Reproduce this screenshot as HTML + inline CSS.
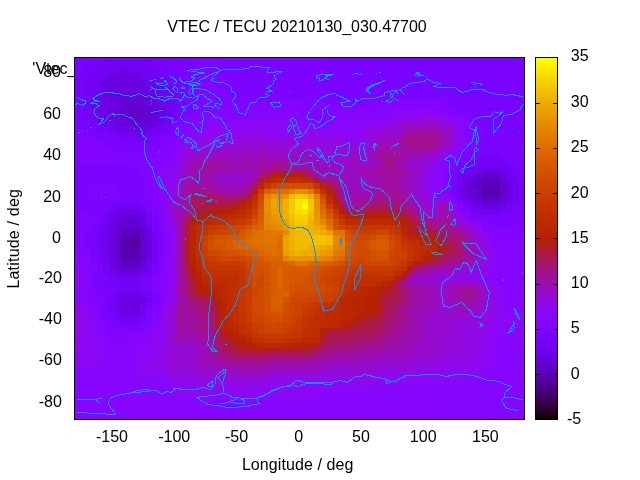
<!DOCTYPE html>
<html lang="en"><head><meta charset="utf-8"><title>VTEC / TECU 20210130_030.47700</title>
<style>html,body{margin:0;padding:0;background:#fff}body{width:640px;height:480px;overflow:hidden}svg{display:block}text{font-family:"Liberation Sans",sans-serif;font-size:16px;fill:#000}.c polyline{fill:none;stroke:#0a93ff;stroke-width:1}</style></head><body>
<svg width="640" height="480" viewBox="0 0 640 480">
<rect width="640" height="480" fill="#fff"/>
<text x="297" y="32.3" text-anchor="middle">VTEC / TECU 20210130_030.47700</text>
<text x="76.3" y="74.4" text-anchor="end">'Vtec_</text>
<text x="61.0" y="77.4" text-anchor="end">80</text>
<text x="61.0" y="119.3" text-anchor="end">60</text>
<text x="61.0" y="160.3" text-anchor="end">40</text>
<text x="61.0" y="201.5" text-anchor="end">20</text>
<text x="61.0" y="242.6" text-anchor="end">0</text>
<text x="61.8" y="283.3" text-anchor="end">-20</text>
<text x="61.8" y="324.4" text-anchor="end">-40</text>
<text x="61.8" y="365.3" text-anchor="end">-60</text>
<text x="61.8" y="407.1" text-anchor="end">-80</text>
<text x="112.0" y="442.3" text-anchor="middle">-150</text>
<text x="174.2" y="442.3" text-anchor="middle">-100</text>
<text x="236.5" y="442.3" text-anchor="middle">-50</text>
<text x="298.7" y="442.3" text-anchor="middle">0</text>
<text x="360.9" y="442.3" text-anchor="middle">50</text>
<text x="423.2" y="442.3" text-anchor="middle">100</text>
<text x="485.4" y="442.3" text-anchor="middle">150</text>
<text x="570.8" y="61.3">35</text>
<text x="570.8" y="107.2">30</text>
<text x="570.8" y="152.4">25</text>
<text x="570.8" y="197.7">20</text>
<text x="570.8" y="242.9">15</text>
<text x="570.8" y="288.1">10</text>
<text x="570.8" y="333.4">5</text>
<text x="570.8" y="378.6">0</text>
<text x="567.0" y="423.9">-5</text>
<text x="241.9" y="470" style="letter-spacing:.08px">Longitude / deg</text>
<text transform="translate(18.5,288.6) rotate(-90)" style="letter-spacing:.2px">Latitude / deg</text>
<g shape-rendering="crispEdges">
<rect x="74" y="57" width="451" height="363" fill="#000"/>
<path fill="#7c03fe" d="M74 57h23v3h-23zM165 57h25v3h-25zM326 57h199v3h-199zM184 60h12v5h-12zM221 60h105v5h-105zM190 65h6v5h-6zM221 65h105v5h-105zM190 70h6v5h-6zM221 70h105v5h-105zM190 75h6v5h-6zM221 75h105v5h-105zM190 80h6v6h-6zM221 80h105v6h-105zM190 86h6v5h-6zM221 86h112v5h-112zM190 91h6v5h-6zM221 91h112v5h-112zM190 96h6v5h-6zM221 96h230v5h-230zM190 101h6v5h-6zM326 101h44v5h-44zM444 101h7v5h-7zM190 106h6v5h-6zM457 106h12v5h-12zM190 111h6v5h-6zM463 111h6v5h-6zM469 116h13v6h-13zM74 122h4v5h-4zM177 122h7v5h-7zM475 122h7v5h-7zM78 127h6v5h-6zM171 127h6v5h-6zM84 132h6v5h-6zM165 132h6v5h-6zM482 132h6v5h-6zM90 137h13v5h-13zM159 137h6v5h-6zM103 142h12v5h-12zM152 142h7v5h-7zM475 142h7v5h-7zM519 142h6v5h-6zM115 147h37v6h-37zM469 147h6v6h-6zM519 147h6v6h-6zM463 153h6v5h-6zM519 153h6v5h-6zM457 158h6v5h-6zM74 163h60v5h-60zM90 168h31v5h-31zM128 168h12v5h-12zM451 168h6v5h-6zM134 173h6v5h-6zM90 178h31v5h-31zM134 178h12v5h-12zM84 183h6v6h-6zM115 183h6v6h-6zM140 183h6v6h-6zM84 189h6v5h-6zM115 189h6v5h-6zM140 189h6v5h-6zM84 194h6v5h-6zM115 194h6v5h-6zM140 194h6v5h-6zM451 194h6v5h-6zM90 199h19v5h-19zM146 199h6v5h-6zM78 209h12v5h-12zM152 209h7v5h-7zM90 214h7v5h-7zM469 214h6v5h-6zM90 219h7v6h-7zM488 219h6v6h-6zM513 219h12v6h-12zM494 225h31v5h-31zM84 230h6v5h-6zM84 235h6v5h-6zM84 240h6v5h-6zM84 245h6v5h-6zM90 256h7v5h-7zM152 271h7v5h-7zM97 276h6v5h-6zM97 281h6v5h-6zM97 286h6v6h-6zM97 292h6v5h-6zM152 292h7v5h-7zM97 297h6v5h-6zM103 312h6v5h-6zM103 317h6v5h-6zM146 317h6v5h-6zM109 322h6v6h-6zM140 322h6v6h-6zM115 328h25v5h-25z"/>
<path fill="#7903fc" d="M97 57h68v3h-68zM74 60h16v5h-16zM165 60h19v5h-19zM326 60h199v5h-199zM74 65h10v5h-10zM171 65h19v5h-19zM326 65h199v5h-199zM74 70h10v5h-10zM171 70h19v5h-19zM326 70h199v5h-199zM74 75h4v5h-4zM177 75h13v5h-13zM326 75h199v5h-199zM74 80h4v6h-4zM177 80h13v6h-13zM326 80h199v6h-199zM74 86h4v5h-4zM184 86h6v5h-6zM333 86h192v5h-192zM74 91h4v5h-4zM184 91h6v5h-6zM333 91h192v5h-192zM74 96h4v5h-4zM184 96h6v5h-6zM451 96h74v5h-74zM74 101h4v5h-4zM184 101h6v5h-6zM451 101h74v5h-74zM74 106h4v5h-4zM184 106h6v5h-6zM469 106h56v5h-56zM74 111h4v5h-4zM184 111h6v5h-6zM469 111h56v5h-56zM74 116h10v6h-10zM177 116h7v6h-7zM482 116h43v6h-43zM78 122h12v5h-12zM171 122h6v5h-6zM482 122h43v5h-43zM84 127h13v5h-13zM482 127h43v5h-43zM90 132h19v5h-19zM159 132h6v5h-6zM488 132h37v5h-37zM103 137h18v5h-18zM152 137h7v5h-7zM482 137h43v5h-43zM115 142h37v5h-37zM482 142h37v5h-37zM475 147h44v6h-44zM469 153h13v5h-13zM500 153h19v5h-19zM463 158h6v5h-6zM507 158h18v5h-18zM457 163h6v5h-6zM513 163h12v5h-12zM74 168h16v5h-16zM121 168h7v5h-7zM519 168h6v5h-6zM74 173h60v5h-60zM451 173h6v5h-6zM519 173h6v5h-6zM74 178h16v5h-16zM121 178h13v5h-13zM451 178h6v5h-6zM74 183h10v6h-10zM121 183h19v6h-19zM451 183h6v6h-6zM74 189h10v5h-10zM121 189h19v5h-19zM451 189h6v5h-6zM74 194h10v5h-10zM121 194h19v5h-19zM74 199h16v5h-16zM109 199h12v5h-12zM140 199h6v5h-6zM457 199h6v5h-6zM74 204h35v5h-35zM146 204h6v5h-6zM463 204h6v5h-6zM519 204h6v5h-6zM90 209h13v5h-13zM469 209h6v5h-6zM513 209h12v5h-12zM97 214h6v5h-6zM152 214h7v5h-7zM475 214h19v5h-19zM500 214h25v5h-25zM97 219h6v6h-6zM152 219h7v6h-7zM494 219h19v6h-19zM90 225h7v5h-7zM152 225h7v5h-7zM90 230h7v5h-7zM152 230h7v5h-7zM90 235h7v5h-7zM90 240h7v5h-7zM90 245h7v5h-7zM90 250h7v6h-7zM97 261h6v5h-6zM152 261h7v5h-7zM97 266h6v5h-6zM152 266h7v5h-7zM97 271h6v5h-6zM103 276h6v5h-6zM146 276h6v5h-6zM103 281h6v5h-6zM146 281h6v5h-6zM103 286h12v6h-12zM146 286h6v6h-6zM103 292h6v5h-6zM103 297h6v5h-6zM152 297h7v5h-7zM103 302h6v5h-6zM103 307h6v5h-6zM146 307h6v5h-6zM109 312h6v5h-6zM146 312h6v5h-6zM109 317h6v5h-6zM140 317h6v5h-6zM115 322h25v6h-25z"/>
<path fill="#8004ff" d="M190 57h136v3h-136zM196 60h25v5h-25zM196 65h25v5h-25zM196 70h25v5h-25zM196 75h25v5h-25zM196 80h25v6h-25zM196 86h25v5h-25zM196 91h25v5h-25zM196 96h25v5h-25zM196 101h130v5h-130zM370 101h74v5h-74zM196 106h62v5h-62zM444 106h13v5h-13zM196 111h25v5h-25zM457 111h6v5h-6zM184 116h12v6h-12zM463 116h6v6h-6zM469 122h6v5h-6zM74 127h4v5h-4zM177 127h7v5h-7zM469 127h13v5h-13zM74 132h10v5h-10zM171 132h6v5h-6zM475 132h7v5h-7zM74 137h16v5h-16zM165 137h12v5h-12zM469 137h13v5h-13zM74 142h29v5h-29zM159 142h12v5h-12zM469 142h6v5h-6zM74 147h41v6h-41zM152 147h13v6h-13zM463 147h6v6h-6zM74 153h85v5h-85zM457 153h6v5h-6zM74 158h78v5h-78zM134 163h18v5h-18zM451 163h6v5h-6zM140 168h12v5h-12zM444 168h7v5h-7zM140 173h12v5h-12zM444 173h7v5h-7zM146 178h6v5h-6zM444 178h7v5h-7zM90 183h25v6h-25zM146 183h6v6h-6zM444 183h7v6h-7zM90 189h25v5h-25zM146 189h6v5h-6zM90 194h25v5h-25zM146 194h6v5h-6zM152 204h7v5h-7zM457 204h6v5h-6zM74 209h4v5h-4zM463 209h6v5h-6zM78 214h12v5h-12zM78 219h12v6h-12zM482 219h6v6h-6zM78 225h12v5h-12zM488 225h6v5h-6zM78 230h6v5h-6zM159 230h6v5h-6zM494 230h31v5h-31zM78 235h6v5h-6zM159 235h6v5h-6zM78 240h6v5h-6zM159 240h6v5h-6zM78 245h6v5h-6zM159 245h6v5h-6zM84 250h6v6h-6zM159 250h6v6h-6zM159 256h6v5h-6zM90 261h7v5h-7zM159 261h6v5h-6zM90 266h7v5h-7zM90 271h7v5h-7zM90 276h7v5h-7zM152 276h7v5h-7zM90 281h7v5h-7zM152 281h7v5h-7zM90 286h7v6h-7zM152 286h7v6h-7zM90 292h7v5h-7zM90 297h7v5h-7zM97 302h6v5h-6zM152 302h7v5h-7zM97 307h6v5h-6zM152 307h7v5h-7zM97 312h6v5h-6zM103 322h6v6h-6zM146 322h6v6h-6zM103 328h12v5h-12zM140 328h6v5h-6zM109 333h25v5h-25z"/>
<path fill="#7602f8" d="M90 60h13v5h-13zM152 60h13v5h-13zM84 65h13v5h-13zM159 65h12v5h-12zM84 70h6v5h-6zM165 70h6v5h-6zM78 75h12v5h-12zM165 75h12v5h-12zM78 80h6v6h-6zM171 80h6v6h-6zM78 86h6v5h-6zM171 86h13v5h-13zM78 91h6v5h-6zM177 91h7v5h-7zM78 96h6v5h-6zM177 96h7v5h-7zM78 101h6v5h-6zM177 101h7v5h-7zM78 106h6v5h-6zM177 106h7v5h-7zM78 111h6v5h-6zM177 111h7v5h-7zM84 116h6v6h-6zM171 116h6v6h-6zM90 122h7v5h-7zM97 127h12v5h-12zM165 127h6v5h-6zM109 132h6v5h-6zM152 132h7v5h-7zM121 137h13v5h-13zM140 137h12v5h-12zM482 153h18v5h-18zM469 158h13v5h-13zM500 158h7v5h-7zM463 163h6v5h-6zM507 163h6v5h-6zM457 168h6v5h-6zM513 168h6v5h-6zM513 173h6v5h-6zM519 178h6v5h-6zM519 183h6v6h-6zM519 189h6v5h-6zM519 194h6v5h-6zM121 199h19v5h-19zM519 199h6v5h-6zM109 204h6v5h-6zM140 204h6v5h-6zM513 204h6v5h-6zM103 209h6v5h-6zM146 209h6v5h-6zM475 209h7v5h-7zM507 209h6v5h-6zM494 214h6v5h-6zM97 225h6v5h-6zM97 230h6v5h-6zM152 235h7v5h-7zM152 240h7v5h-7zM152 245h7v5h-7zM97 250h6v6h-6zM152 250h7v6h-7zM97 256h6v5h-6zM152 256h7v5h-7zM103 271h6v5h-6zM109 276h6v5h-6zM140 276h6v5h-6zM109 281h12v5h-12zM140 281h6v5h-6zM115 286h6v6h-6zM140 286h6v6h-6zM109 292h6v5h-6zM146 292h6v5h-6zM109 297h6v5h-6zM109 302h6v5h-6zM146 302h6v5h-6zM109 307h6v5h-6zM115 317h6v5h-6z"/>
<path fill="#7202f3" d="M103 60h49v5h-49zM97 65h18v5h-18zM134 65h25v5h-25zM90 70h19v5h-19zM146 70h19v5h-19zM90 75h13v5h-13zM152 75h13v5h-13zM84 80h13v6h-13zM159 80h12v6h-12zM84 86h13v5h-13zM165 86h6v5h-6zM84 91h6v5h-6zM165 91h12v5h-12zM84 96h6v5h-6zM165 96h12v5h-12zM84 101h6v5h-6zM165 101h12v5h-12zM84 106h6v5h-6zM171 106h6v5h-6zM84 111h13v5h-13zM171 111h6v5h-6zM90 116h13v6h-13zM165 116h6v6h-6zM97 122h12v5h-12zM165 122h6v5h-6zM109 127h6v5h-6zM159 127h6v5h-6zM115 132h19v5h-19zM146 132h6v5h-6zM134 137h6v5h-6zM482 158h18v5h-18zM469 163h38v5h-38zM463 168h6v5h-6zM507 168h6v5h-6zM457 173h6v5h-6zM507 173h6v5h-6zM457 178h6v5h-6zM513 178h6v5h-6zM513 183h6v6h-6zM513 189h6v5h-6zM457 194h6v5h-6zM513 194h6v5h-6zM463 199h6v5h-6zM513 199h6v5h-6zM115 204h25v5h-25zM469 204h6v5h-6zM507 204h6v5h-6zM109 209h6v5h-6zM140 209h6v5h-6zM482 209h12v5h-12zM500 209h7v5h-7zM103 214h6v5h-6zM146 214h6v5h-6zM103 219h6v6h-6zM146 219h6v6h-6zM103 225h6v5h-6zM97 235h6v5h-6zM97 240h6v5h-6zM97 245h6v5h-6zM103 256h6v5h-6zM103 261h6v5h-6zM103 266h6v5h-6zM109 271h6v5h-6zM146 271h6v5h-6zM115 276h25v5h-25zM121 281h19v5h-19zM121 286h19v6h-19zM115 292h6v5h-6zM140 292h6v5h-6zM115 297h6v5h-6zM146 297h6v5h-6zM140 307h6v5h-6zM115 312h6v5h-6zM140 312h6v5h-6zM121 317h19v5h-19z"/>
<path fill="#6e02ec" d="M115 65h19v5h-19zM109 70h12v5h-12zM128 70h18v5h-18zM103 75h6v5h-6zM140 75h12v5h-12zM97 80h6v6h-6zM146 80h13v6h-13zM97 86h6v5h-6zM152 86h13v5h-13zM90 91h13v5h-13zM159 91h6v5h-6zM90 96h13v5h-13zM159 96h6v5h-6zM90 101h13v5h-13zM159 101h6v5h-6zM90 106h13v5h-13zM165 106h6v5h-6zM97 111h6v5h-6zM165 111h6v5h-6zM103 116h6v6h-6zM109 122h6v5h-6zM159 122h6v5h-6zM115 127h13v5h-13zM152 127h7v5h-7zM134 132h12v5h-12zM469 168h13v5h-13zM500 168h7v5h-7zM463 173h6v5h-6zM507 178h6v5h-6zM457 183h6v6h-6zM457 189h6v5h-6zM507 199h6v5h-6zM475 204h7v5h-7zM500 204h7v5h-7zM115 209h6v5h-6zM494 209h6v5h-6zM109 214h6v5h-6zM109 219h6v6h-6zM146 225h6v5h-6zM103 230h6v5h-6zM103 235h6v5h-6zM103 240h6v5h-6zM103 245h6v5h-6zM103 250h6v6h-6zM146 261h6v5h-6zM146 266h6v5h-6zM115 271h6v5h-6zM140 271h6v5h-6zM121 292h13v5h-13zM115 302h6v5h-6zM140 302h6v5h-6zM115 307h6v5h-6zM121 312h19v5h-19z"/>
<path fill="#6b01e3" d="M121 70h7v5h-7zM109 75h31v5h-31zM103 80h43v6h-43zM103 86h49v5h-49zM103 91h56v5h-56zM103 96h18v5h-18zM146 96h13v5h-13zM103 101h18v5h-18zM152 101h7v5h-7zM103 106h12v5h-12zM159 106h6v5h-6zM103 111h12v5h-12zM159 111h6v5h-6zM109 116h12v6h-12zM159 116h6v6h-6zM115 122h13v5h-13zM152 122h7v5h-7zM128 127h24v5h-24zM482 168h18v5h-18zM469 173h6v5h-6zM500 173h7v5h-7zM463 178h6v5h-6zM463 183h6v6h-6zM507 183h6v6h-6zM463 189h6v5h-6zM507 189h6v5h-6zM463 194h6v5h-6zM507 194h6v5h-6zM469 199h6v5h-6zM482 204h18v5h-18zM121 209h19v5h-19zM115 214h6v5h-6zM140 214h6v5h-6zM115 219h6v6h-6zM140 219h6v6h-6zM109 225h6v5h-6zM109 230h6v5h-6zM146 230h6v5h-6zM109 235h6v5h-6zM146 235h6v5h-6zM109 240h6v5h-6zM146 240h6v5h-6zM109 245h6v5h-6zM146 245h6v5h-6zM109 250h6v6h-6zM146 250h6v6h-6zM109 256h6v5h-6zM146 256h6v5h-6zM109 261h6v5h-6zM109 266h6v5h-6zM140 266h6v5h-6zM121 271h19v5h-19zM134 292h6v5h-6zM121 297h13v5h-13zM140 297h6v5h-6zM121 302h13v5h-13zM121 307h13v5h-13z"/>
<path fill="#6701d9" d="M121 96h25v5h-25zM121 101h13v5h-13zM140 101h12v5h-12zM115 106h13v5h-13zM152 106h7v5h-7zM115 111h6v5h-6zM152 111h7v5h-7zM121 116h7v6h-7zM152 116h7v6h-7zM128 122h6v5h-6zM140 122h12v5h-12zM475 173h7v5h-7zM469 178h6v5h-6zM500 178h7v5h-7zM469 189h6v5h-6zM469 194h6v5h-6zM475 199h7v5h-7zM500 199h7v5h-7zM121 214h19v5h-19zM115 225h6v5h-6zM140 225h6v5h-6zM115 261h6v5h-6zM140 261h6v5h-6zM115 266h6v5h-6zM134 297h6v5h-6zM134 302h6v5h-6zM134 307h6v5h-6z"/>
<path fill="#6301ce" d="M134 101h6v5h-6zM128 106h24v5h-24zM121 111h13v5h-13zM140 111h12v5h-12zM128 116h24v6h-24zM134 122h6v5h-6zM482 173h18v5h-18zM475 178h7v5h-7zM469 183h6v6h-6zM500 183h7v6h-7zM475 189h7v5h-7zM500 189h7v5h-7zM475 194h7v5h-7zM500 194h7v5h-7zM482 199h18v5h-18zM121 219h19v6h-19zM121 225h19v5h-19zM115 230h6v5h-6zM140 230h6v5h-6zM115 235h6v5h-6zM140 235h6v5h-6zM115 240h6v5h-6zM140 240h6v5h-6zM115 245h6v5h-6zM140 245h6v5h-6zM115 250h6v6h-6zM140 250h6v6h-6zM115 256h6v5h-6zM140 256h6v5h-6zM121 266h19v5h-19z"/>
<path fill="#8305fe" d="M258 106h124v5h-124zM438 106h6v5h-6zM221 111h37v5h-37zM295 111h38v5h-38zM451 111h6v5h-6zM196 116h12v6h-12zM308 116h18v6h-18zM184 122h6v5h-6zM177 132h7v5h-7zM469 132h6v5h-6zM171 142h6v5h-6zM165 147h12v6h-12zM159 153h18v5h-18zM152 158h7v5h-7zM451 158h6v5h-6zM152 163h7v5h-7zM444 163h7v5h-7zM152 168h7v5h-7zM444 189h7v5h-7zM152 199h7v5h-7zM74 214h4v5h-4zM159 214h6v5h-6zM74 219h4v6h-4zM159 219h6v6h-6zM475 219h7v6h-7zM74 225h4v5h-4zM159 225h6v5h-6zM482 225h6v5h-6zM74 230h4v5h-4zM488 230h6v5h-6zM74 235h4v5h-4zM494 235h31v5h-31zM74 240h4v5h-4zM494 240h31v5h-31zM74 245h4v5h-4zM500 245h25v5h-25zM78 250h6v6h-6zM500 250h25v6h-25zM84 256h6v5h-6zM507 256h18v5h-18zM507 261h18v5h-18zM159 266h6v5h-6zM507 266h18v5h-18zM159 271h6v5h-6zM507 271h18v5h-18zM507 276h18v5h-18zM507 281h18v5h-18zM159 292h6v5h-6zM84 297h6v5h-6zM159 297h6v5h-6zM90 302h7v5h-7zM152 312h7v5h-7zM97 317h6v5h-6zM152 317h7v5h-7zM97 322h6v6h-6zM97 328h6v5h-6zM103 333h6v5h-6zM134 333h6v5h-6zM109 338h19v5h-19zM109 343h19v5h-19zM432 389h68v6h-68zM432 395h68v5h-68zM432 400h68v5h-68zM432 405h68v5h-68z"/>
<path fill="#8605fc" d="M382 106h56v5h-56zM258 111h37v5h-37zM333 111h62v5h-62zM438 111h13v5h-13zM208 116h50v6h-50zM289 116h19v6h-19zM326 116h50v6h-50zM457 116h6v6h-6zM190 122h18v5h-18zM308 122h25v5h-25zM463 122h6v5h-6zM184 127h12v5h-12zM463 127h6v5h-6zM463 132h6v5h-6zM177 137h7v5h-7zM463 137h6v5h-6zM463 142h6v5h-6zM457 147h6v6h-6zM451 153h6v5h-6zM159 158h18v5h-18zM444 158h7v5h-7zM159 163h12v5h-12zM438 163h6v5h-6zM159 168h6v5h-6zM438 168h6v5h-6zM152 173h7v5h-7zM438 173h6v5h-6zM152 178h7v5h-7zM438 178h6v5h-6zM152 183h7v6h-7zM438 183h6v6h-6zM152 189h7v5h-7zM438 189h6v5h-6zM152 194h7v5h-7zM444 194h7v5h-7zM451 199h6v5h-6zM159 204h6v5h-6zM159 209h6v5h-6zM457 209h6v5h-6zM463 214h6v5h-6zM165 230h6v5h-6zM482 230h6v5h-6zM165 235h6v5h-6zM488 235h6v5h-6zM165 240h6v5h-6zM165 245h6v5h-6zM494 245h6v5h-6zM74 250h4v6h-4zM165 250h6v6h-6zM494 250h6v6h-6zM78 256h6v5h-6zM165 256h6v5h-6zM494 256h13v5h-13zM78 261h12v5h-12zM494 261h13v5h-13zM84 266h6v5h-6zM494 266h13v5h-13zM84 271h6v5h-6zM494 271h13v5h-13zM84 276h6v5h-6zM159 276h6v5h-6zM488 276h19v5h-19zM84 281h6v5h-6zM159 281h6v5h-6zM500 281h7v5h-7zM84 286h6v6h-6zM159 286h6v6h-6zM507 286h18v6h-18zM78 292h12v5h-12zM507 292h18v5h-18zM74 297h10v5h-10zM507 297h18v5h-18zM84 302h6v5h-6zM159 302h6v5h-6zM507 302h18v5h-18zM90 307h7v5h-7zM507 307h6v5h-6zM90 312h7v5h-7zM152 322h7v6h-7zM146 328h6v5h-6zM507 328h6v5h-6zM97 333h6v5h-6zM140 333h12v5h-12zM507 333h6v5h-6zM103 338h6v5h-6zM128 338h18v5h-18zM500 338h19v5h-19zM103 343h6v5h-6zM128 343h12v5h-12zM500 343h19v5h-19zM103 348h31v5h-31zM500 348h25v5h-25zM103 353h31v6h-31zM500 353h25v6h-25zM103 359h31v5h-31zM500 359h25v5h-25zM97 364h37v5h-37zM494 364h31v5h-31zM74 369h60v5h-60zM488 369h37v5h-37zM74 374h66v5h-66zM482 374h43v5h-43zM74 379h91v5h-91zM463 379h62v5h-62zM74 384h91v5h-91zM420 384h105v5h-105zM74 389h91v6h-91zM370 389h62v6h-62zM500 389h25v6h-25zM74 395h97v5h-97zM320 395h112v5h-112zM500 395h25v5h-25zM74 400h358v5h-358zM500 400h25v5h-25zM74 405h358v5h-358zM500 405h25v5h-25zM74 410h451v5h-451zM74 415h451v5h-451z"/>
<path fill="#5f01c2" d="M134 111h6v5h-6zM482 178h18v5h-18zM475 183h7v6h-7zM121 230h13v5h-13zM121 261h19v5h-19z"/>
<path fill="#8906f8" d="M395 111h43v5h-43zM258 116h31v6h-31zM376 116h13v6h-13zM451 116h6v6h-6zM208 122h50v5h-50zM289 122h19v5h-19zM333 122h37v5h-37zM457 122h6v5h-6zM196 127h6v5h-6zM308 127h56v5h-56zM184 132h6v5h-6zM177 142h7v5h-7zM457 142h6v5h-6zM171 163h6v5h-6zM165 168h6v5h-6zM159 173h6v5h-6zM432 173h6v5h-6zM159 178h6v5h-6zM432 178h6v5h-6zM159 183h6v6h-6zM432 183h6v6h-6zM159 189h6v5h-6zM159 194h6v5h-6zM159 199h6v5h-6zM469 219h6v6h-6zM165 225h6v5h-6zM488 240h6v5h-6zM74 256h4v5h-4zM165 261h6v5h-6zM78 266h6v5h-6zM165 266h6v5h-6zM78 271h6v5h-6zM165 271h6v5h-6zM488 271h6v5h-6zM78 276h6v5h-6zM165 276h6v5h-6zM482 276h6v5h-6zM78 281h6v5h-6zM165 281h6v5h-6zM494 281h6v5h-6zM78 286h6v6h-6zM165 286h6v6h-6zM500 286h7v6h-7zM74 292h4v5h-4zM165 292h6v5h-6zM500 292h7v5h-7zM165 297h6v5h-6zM500 297h7v5h-7zM78 302h6v5h-6zM500 302h7v5h-7zM159 307h6v5h-6zM500 307h7v5h-7zM513 307h12v5h-12zM159 312h6v5h-6zM500 312h19v5h-19zM90 317h7v5h-7zM159 317h6v5h-6zM507 317h6v5h-6zM90 322h7v6h-7zM500 322h19v6h-19zM90 328h7v5h-7zM152 328h7v5h-7zM494 328h13v5h-13zM513 328h6v5h-6zM90 333h7v5h-7zM152 333h7v5h-7zM494 333h13v5h-13zM513 333h12v5h-12zM97 338h6v5h-6zM146 338h6v5h-6zM494 338h6v5h-6zM519 338h6v5h-6zM97 343h6v5h-6zM140 343h12v5h-12zM494 343h6v5h-6zM519 343h6v5h-6zM97 348h6v5h-6zM134 348h12v5h-12zM494 348h6v5h-6zM97 353h6v6h-6zM134 353h12v6h-12zM494 353h6v6h-6zM97 359h6v5h-6zM134 359h6v5h-6zM494 359h6v5h-6zM74 364h23v5h-23zM134 364h6v5h-6zM488 364h6v5h-6zM134 369h6v5h-6zM482 369h6v5h-6zM140 374h25v5h-25zM463 374h19v5h-19zM165 379h6v5h-6zM420 379h43v5h-43zM165 384h6v5h-6zM370 384h50v5h-50zM165 389h12v6h-12zM314 389h56v6h-56zM171 395h149v5h-149z"/>
<path fill="#8c07f3" d="M389 116h12v6h-12zM444 116h7v6h-7zM258 122h31v5h-31zM370 122h12v5h-12zM202 127h56v5h-56zM264 127h44v5h-44zM457 127h6v5h-6zM190 132h18v5h-18zM264 132h25v5h-25zM308 132h56v5h-56zM457 132h6v5h-6zM184 137h12v5h-12zM345 137h25v5h-25zM457 137h6v5h-6zM177 147h7v6h-7zM451 147h6v6h-6zM177 153h7v5h-7zM444 153h7v5h-7zM438 158h6v5h-6zM432 163h6v5h-6zM171 168h6v5h-6zM432 168h6v5h-6zM165 173h12v5h-12zM426 173h6v5h-6zM165 178h12v5h-12zM426 178h6v5h-6zM165 183h6v6h-6zM426 183h6v6h-6zM165 189h6v5h-6zM432 189h6v5h-6zM165 194h6v5h-6zM438 194h6v5h-6zM165 214h6v5h-6zM457 214h6v5h-6zM165 219h6v6h-6zM475 225h7v5h-7zM171 230h6v5h-6zM171 235h6v5h-6zM482 235h6v5h-6zM171 240h6v5h-6zM488 245h6v5h-6zM488 250h6v6h-6zM488 256h6v5h-6zM74 261h4v5h-4zM488 261h6v5h-6zM74 266h4v5h-4zM488 266h6v5h-6zM74 271h4v5h-4zM482 271h6v5h-6zM74 276h4v5h-4zM463 276h19v5h-19zM74 281h4v5h-4zM488 281h6v5h-6zM74 286h4v6h-4zM494 286h6v6h-6zM494 292h6v5h-6zM494 297h6v5h-6zM74 302h4v5h-4zM165 302h6v5h-6zM494 302h6v5h-6zM78 307h12v5h-12zM494 307h6v5h-6zM84 312h6v5h-6zM494 312h6v5h-6zM519 312h6v5h-6zM494 317h13v5h-13zM513 317h12v5h-12zM159 322h6v6h-6zM488 322h12v6h-12zM519 322h6v6h-6zM84 328h6v5h-6zM159 328h6v5h-6zM488 328h6v5h-6zM519 328h6v5h-6zM84 333h6v5h-6zM159 333h6v5h-6zM488 333h6v5h-6zM78 338h19v5h-19zM152 338h13v5h-13zM488 338h6v5h-6zM78 343h19v5h-19zM152 343h7v5h-7zM482 343h12v5h-12zM74 348h23v5h-23zM146 348h13v5h-13zM482 348h12v5h-12zM74 353h23v6h-23zM146 353h13v6h-13zM482 353h12v6h-12zM74 359h23v5h-23zM140 359h12v5h-12zM475 359h19v5h-19zM140 364h12v5h-12zM469 364h19v5h-19zM140 369h19v5h-19zM438 369h44v5h-44zM413 374h50v5h-50zM171 379h6v5h-6zM314 379h19v5h-19zM364 379h56v5h-56zM171 384h13v5h-13zM271 384h99v5h-99zM177 389h137v6h-137z"/>
<path fill="#8f08ec" d="M401 116h19v6h-19zM438 116h6v6h-6zM382 122h7v5h-7zM451 122h6v5h-6zM258 127h6v5h-6zM364 127h18v5h-18zM208 132h38v5h-38zM252 132h6v5h-6zM289 132h19v5h-19zM196 137h6v5h-6zM320 137h13v5h-13zM184 142h6v5h-6zM177 158h7v5h-7zM426 168h6v5h-6zM171 183h6v6h-6zM426 189h6v5h-6zM432 194h6v5h-6zM165 199h6v5h-6zM165 204h6v5h-6zM165 209h6v5h-6zM463 219h6v6h-6zM171 225h6v5h-6zM482 240h6v5h-6zM171 245h6v5h-6zM171 250h6v6h-6zM171 256h6v5h-6zM171 261h6v5h-6zM171 266h6v5h-6zM482 266h6v5h-6zM171 271h6v5h-6zM475 271h7v5h-7zM171 276h6v5h-6zM457 276h6v5h-6zM171 281h6v5h-6zM171 286h6v6h-6zM171 292h6v5h-6zM171 297h6v5h-6zM74 307h4v5h-4zM78 312h6v5h-6zM488 312h6v5h-6zM84 317h6v5h-6zM488 317h6v5h-6zM78 322h12v6h-12zM78 328h6v5h-6zM482 328h6v5h-6zM74 333h10v5h-10zM482 333h6v5h-6zM74 338h4v5h-4zM482 338h6v5h-6zM74 343h4v5h-4zM159 343h6v5h-6zM475 343h7v5h-7zM159 348h6v5h-6zM475 348h7v5h-7zM159 353h6v6h-6zM475 353h7v6h-7zM152 359h13v5h-13zM469 359h6v5h-6zM152 364h13v5h-13zM444 364h25v5h-25zM159 369h6v5h-6zM420 369h18v5h-18zM165 374h6v5h-6zM376 374h37v5h-37zM177 379h13v5h-13zM271 379h43v5h-43zM333 379h31v5h-31zM184 384h87v5h-87z"/>
<path fill="#9109e3" d="M420 116h18v6h-18zM389 122h6v5h-6zM451 127h6v5h-6zM246 132h6v5h-6zM258 132h6v5h-6zM451 132h6v5h-6zM202 137h44v5h-44zM252 137h6v5h-6zM264 137h56v5h-56zM333 137h12v5h-12zM451 137h6v5h-6zM190 142h18v5h-18zM314 142h19v5h-19zM351 142h19v5h-19zM451 142h6v5h-6zM184 147h12v6h-12zM444 147h7v6h-7zM438 153h6v5h-6zM432 158h6v5h-6zM177 163h7v5h-7zM426 163h6v5h-6zM177 168h7v5h-7zM420 168h6v5h-6zM420 173h6v5h-6zM420 178h6v5h-6zM420 183h6v6h-6zM171 189h6v5h-6zM420 189h6v5h-6zM171 194h6v5h-6zM426 194h6v5h-6zM432 199h19v5h-19zM451 204h6v5h-6zM451 209h6v5h-6zM171 219h6v6h-6zM475 230h7v5h-7zM482 245h6v5h-6zM482 250h6v6h-6zM482 256h6v5h-6zM482 261h6v5h-6zM475 266h7v5h-7zM463 271h12v5h-12zM438 276h19v5h-19zM482 281h6v5h-6zM488 286h6v6h-6zM488 292h6v5h-6zM488 297h6v5h-6zM488 302h6v5h-6zM165 307h6v5h-6zM488 307h6v5h-6zM74 312h4v5h-4zM165 312h6v5h-6zM482 312h6v5h-6zM74 317h10v5h-10zM165 317h6v5h-6zM475 317h13v5h-13zM74 322h4v6h-4zM165 322h6v6h-6zM469 322h19v6h-19zM74 328h4v5h-4zM165 328h6v5h-6zM463 328h19v5h-19zM165 333h6v5h-6zM463 333h19v5h-19zM165 338h6v5h-6zM463 338h19v5h-19zM165 343h6v5h-6zM463 343h12v5h-12zM165 348h6v5h-6zM463 348h12v5h-12zM165 353h6v6h-6zM444 353h31v6h-31zM438 359h31v5h-31zM165 364h6v5h-6zM413 364h31v5h-31zM165 369h6v5h-6zM184 369h6v5h-6zM376 369h44v5h-44zM171 374h25v5h-25zM271 374h105v5h-105zM190 379h81v5h-81z"/>
<path fill="#940ad9" d="M395 122h6v5h-6zM444 122h7v5h-7zM382 127h19v5h-19zM364 132h18v5h-18zM246 137h6v5h-6zM258 137h6v5h-6zM208 142h38v5h-38zM252 142h6v5h-6zM264 142h50v5h-50zM333 142h18v5h-18zM196 147h6v6h-6zM314 147h37v6h-37zM184 153h6v5h-6zM326 153h7v5h-7zM432 153h6v5h-6zM426 158h6v5h-6zM407 163h19v5h-19zM177 173h7v5h-7zM420 194h6v5h-6zM171 199h6v5h-6zM426 199h6v5h-6zM432 204h6v5h-6zM457 219h6v6h-6zM469 225h6v5h-6zM475 235h7v5h-7zM457 271h6v5h-6zM432 276h6v5h-6zM475 281h7v5h-7zM171 302h6v5h-6zM482 307h6v5h-6zM475 312h7v5h-7zM457 317h18v5h-18zM451 322h18v6h-18zM444 328h19v5h-19zM444 333h19v5h-19zM444 338h19v5h-19zM444 343h19v5h-19zM171 348h19v5h-19zM444 348h19v5h-19zM177 353h13v6h-13zM438 353h6v6h-6zM165 359h6v5h-6zM184 359h6v5h-6zM420 359h18v5h-18zM177 364h13v5h-13zM382 364h31v5h-31zM171 369h13v5h-13zM190 369h6v5h-6zM326 369h50v5h-50zM196 374h19v5h-19zM264 374h7v5h-7z"/>
<path fill="#970bce" d="M401 122h19v5h-19zM438 122h6v5h-6zM444 127h7v5h-7zM382 132h19v5h-19zM370 137h12v5h-12zM246 142h6v5h-6zM258 142h6v5h-6zM202 147h44v6h-44zM252 147h6v6h-6zM264 147h50v6h-50zM351 147h25v6h-25zM438 147h6v6h-6zM190 153h18v5h-18zM252 153h6v5h-6zM308 153h18v5h-18zM333 153h18v5h-18zM426 153h6v5h-6zM184 158h6v5h-6zM320 158h31v5h-31zM407 158h19v5h-19zM333 163h18v5h-18zM413 168h7v5h-7zM221 173h31v5h-31zM413 173h7v5h-7zM177 178h7v5h-7zM221 178h25v5h-25zM413 178h7v5h-7zM413 183h7v6h-7zM413 189h7v5h-7zM413 194h7v5h-7zM420 199h6v5h-6zM171 204h6v5h-6zM420 204h12v5h-12zM171 209h6v5h-6zM432 209h6v5h-6zM171 214h6v5h-6zM451 214h6v5h-6zM463 225h6v5h-6zM469 230h6v5h-6zM475 240h7v5h-7zM475 245h7v5h-7zM475 250h7v6h-7zM475 256h7v5h-7zM475 261h7v5h-7zM463 266h12v5h-12zM438 271h19v5h-19zM420 276h12v5h-12zM426 281h49v5h-49zM482 286h6v6h-6zM482 292h6v5h-6zM482 297h6v5h-6zM444 302h7v5h-7zM482 302h6v5h-6zM171 307h6v5h-6zM438 307h19v5h-19zM475 307h7v5h-7zM171 312h6v5h-6zM432 312h43v5h-43zM171 317h6v5h-6zM426 317h31v5h-31zM171 322h6v6h-6zM426 322h25v6h-25zM171 328h6v5h-6zM426 328h18v5h-18zM171 333h6v5h-6zM426 333h18v5h-18zM171 338h6v5h-6zM426 338h18v5h-18zM171 343h25v5h-25zM420 343h24v5h-24zM190 348h12v5h-12zM413 348h31v5h-31zM171 353h6v6h-6zM190 353h6v6h-6zM407 353h31v6h-31zM171 359h13v5h-13zM190 359h6v5h-6zM376 359h44v5h-44zM171 364h6v5h-6zM190 364h6v5h-6zM326 364h56v5h-56zM196 369h19v5h-19zM271 369h55v5h-55zM215 374h49v5h-49z"/>
<path fill="#9a0cc2" d="M420 122h18v5h-18zM401 127h6v5h-6zM438 127h6v5h-6zM444 132h7v5h-7zM382 137h19v5h-19zM444 137h7v5h-7zM370 142h12v5h-12zM444 142h7v5h-7zM246 147h6v6h-6zM258 147h6v6h-6zM208 153h44v5h-44zM264 153h44v5h-44zM351 153h25v5h-25zM420 153h6v5h-6zM190 158h6v5h-6zM233 158h6v5h-6zM252 158h6v5h-6zM308 158h12v5h-12zM351 158h31v5h-31zM184 163h6v5h-6zM320 163h13v5h-13zM351 163h31v5h-31zM395 163h12v5h-12zM184 168h6v5h-6zM339 168h18v5h-18zM215 173h6v5h-6zM345 173h19v5h-19zM407 173h6v5h-6zM215 178h6v5h-6zM246 178h6v5h-6zM345 178h19v5h-19zM407 178h6v5h-6zM177 183h7v6h-7zM221 183h25v6h-25zM345 183h19v6h-19zM407 183h6v6h-6zM413 199h7v5h-7zM438 204h6v5h-6zM426 209h6v5h-6zM432 214h6v5h-6zM457 266h6v5h-6zM432 271h6v5h-6zM413 276h7v5h-7zM407 281h19v5h-19zM432 286h19v6h-19zM432 292h19v5h-19zM432 297h19v5h-19zM432 302h12v5h-12zM451 302h6v5h-6zM475 302h7v5h-7zM432 307h6v5h-6zM457 307h18v5h-18zM426 312h6v5h-6zM420 317h6v5h-6zM420 322h6v6h-6zM420 328h6v5h-6zM420 333h6v5h-6zM184 338h6v5h-6zM420 338h6v5h-6zM196 343h6v5h-6zM413 343h7v5h-7zM407 348h6v5h-6zM196 353h6v6h-6zM382 353h25v6h-25zM196 359h6v5h-6zM333 359h43v5h-43zM196 364h19v5h-19zM314 364h12v5h-12zM215 369h56v5h-56z"/>
<path fill="#9c0db4" d="M407 127h31v5h-31zM401 132h6v5h-6zM438 132h6v5h-6zM382 142h19v5h-19zM426 147h12v6h-12zM258 153h6v5h-6zM401 153h19v5h-19zM196 158h37v5h-37zM239 158h13v5h-13zM264 158h44v5h-44zM190 163h6v5h-6zM227 163h19v5h-19zM252 163h6v5h-6zM308 163h12v5h-12zM190 168h6v5h-6zM215 168h43v5h-43zM320 168h19v5h-19zM357 168h13v5h-13zM407 168h6v5h-6zM184 173h6v5h-6zM208 173h7v5h-7zM252 173h6v5h-6zM326 173h19v5h-19zM364 173h18v5h-18zM401 173h6v5h-6zM184 178h6v5h-6zM208 178h7v5h-7zM339 178h6v5h-6zM364 178h18v5h-18zM401 178h6v5h-6zM215 183h6v6h-6zM339 183h6v6h-6zM364 183h18v6h-18zM401 183h6v6h-6zM177 189h7v5h-7zM221 189h18v5h-18zM345 189h31v5h-31zM401 189h12v5h-12zM177 194h7v5h-7zM345 194h25v5h-25zM407 194h6v5h-6zM177 199h7v5h-7zM177 204h7v5h-7zM413 204h7v5h-7zM177 209h7v5h-7zM420 209h6v5h-6zM438 209h6v5h-6zM177 214h7v5h-7zM426 214h6v5h-6zM438 214h6v5h-6zM451 219h6v6h-6zM457 225h6v5h-6zM463 230h6v5h-6zM469 235h6v5h-6zM469 240h6v5h-6zM463 261h12v5h-12zM438 266h19v5h-19zM420 271h12v5h-12zM420 286h12v6h-12zM451 286h6v6h-6zM475 286h7v6h-7zM420 292h12v5h-12zM451 292h6v5h-6zM475 292h7v5h-7zM177 297h7v5h-7zM420 297h12v5h-12zM451 297h6v5h-6zM475 297h7v5h-7zM420 302h12v5h-12zM457 302h18v5h-18zM413 307h19v5h-19zM413 312h13v5h-13zM413 317h7v5h-7zM413 322h7v6h-7zM184 328h6v5h-6zM413 328h7v5h-7zM184 333h12v5h-12zM407 333h13v5h-13zM177 338h7v5h-7zM190 338h12v5h-12zM401 338h19v5h-19zM202 343h6v5h-6zM395 343h18v5h-18zM202 348h6v5h-6zM382 348h25v5h-25zM202 353h6v6h-6zM357 353h25v6h-25zM202 359h13v5h-13zM314 359h19v5h-19zM215 364h12v5h-12zM264 364h50v5h-50z"/>
<path fill="#9f0fa6" d="M407 132h6v5h-6zM438 137h6v5h-6zM438 142h6v5h-6zM376 147h50v6h-50zM258 158h6v5h-6zM395 158h12v5h-12zM196 163h6v5h-6zM221 163h6v5h-6zM246 163h6v5h-6zM258 163h13v5h-13zM295 163h13v5h-13zM196 168h19v5h-19zM258 168h6v5h-6zM308 168h12v5h-12zM370 168h6v5h-6zM401 168h6v5h-6zM190 173h18v5h-18zM314 173h12v5h-12zM382 173h19v5h-19zM190 178h18v5h-18zM382 178h19v5h-19zM184 183h31v6h-31zM246 183h6v6h-6zM382 183h19v6h-19zM184 189h6v5h-6zM215 189h6v5h-6zM239 189h7v5h-7zM339 189h6v5h-6zM376 189h6v5h-6zM370 194h6v5h-6zM401 194h6v5h-6zM345 199h12v5h-12zM407 199h6v5h-6zM444 204h7v5h-7zM444 209h7v5h-7zM420 214h6v5h-6zM444 214h7v5h-7zM177 219h7v6h-7zM177 225h7v5h-7zM177 230h7v5h-7zM177 235h7v5h-7zM177 240h7v5h-7zM177 245h7v5h-7zM469 245h6v5h-6zM177 250h7v6h-7zM469 250h6v6h-6zM177 256h7v5h-7zM469 256h6v5h-6zM177 261h7v5h-7zM457 261h6v5h-6zM177 266h7v5h-7zM432 266h6v5h-6zM177 271h7v5h-7zM413 271h7v5h-7zM177 276h7v5h-7zM407 276h6v5h-6zM177 281h7v5h-7zM413 286h7v6h-7zM457 286h6v6h-6zM177 292h7v5h-7zM413 292h7v5h-7zM457 292h6v5h-6zM413 297h7v5h-7zM457 297h6v5h-6zM177 302h7v5h-7zM413 302h7v5h-7zM184 307h6v5h-6zM407 307h6v5h-6zM184 312h6v5h-6zM407 312h6v5h-6zM184 317h6v5h-6zM407 317h6v5h-6zM177 322h13v6h-13zM407 322h6v6h-6zM177 328h7v5h-7zM190 328h6v5h-6zM407 328h6v5h-6zM177 333h7v5h-7zM196 333h6v5h-6zM401 333h6v5h-6zM202 338h6v5h-6zM395 338h6v5h-6zM382 343h13v5h-13zM364 348h18v5h-18zM208 353h7v6h-7zM333 353h24v6h-24zM215 359h12v5h-12zM271 359h43v5h-43zM227 364h37v5h-37z"/>
<path fill="#a11096" d="M413 132h25v5h-25zM401 137h6v5h-6zM420 137h18v5h-18zM401 142h19v5h-19zM376 153h25v5h-25zM202 163h19v5h-19zM271 163h6v5h-6zM283 163h12v5h-12zM382 163h13v5h-13zM264 168h7v5h-7zM376 168h25v5h-25zM252 178h6v5h-6zM333 178h6v5h-6zM190 189h6v5h-6zM208 189h7v5h-7zM382 189h19v5h-19zM184 194h6v5h-6zM339 194h6v5h-6zM376 194h25v5h-25zM184 199h6v5h-6zM357 199h13v5h-13zM401 199h6v5h-6zM184 204h6v5h-6zM345 204h12v5h-12zM407 204h6v5h-6zM413 209h7v5h-7zM426 219h25v6h-25zM451 225h6v5h-6zM457 230h6v5h-6zM463 235h6v5h-6zM463 240h6v5h-6zM463 245h6v5h-6zM463 250h6v6h-6zM463 256h6v5h-6zM444 261h13v5h-13zM426 266h6v5h-6zM401 281h6v5h-6zM177 286h7v6h-7zM407 286h6v6h-6zM463 286h12v6h-12zM407 292h6v5h-6zM463 292h12v5h-12zM184 297h6v5h-6zM407 297h6v5h-6zM463 297h12v5h-12zM184 302h6v5h-6zM407 302h6v5h-6zM177 307h7v5h-7zM190 307h6v5h-6zM401 307h6v5h-6zM177 312h7v5h-7zM190 312h6v5h-6zM401 312h6v5h-6zM177 317h7v5h-7zM190 317h12v5h-12zM401 317h6v5h-6zM190 322h12v6h-12zM395 322h12v6h-12zM196 328h6v5h-6zM395 328h12v5h-12zM202 333h13v5h-13zM389 333h12v5h-12zM208 338h7v5h-7zM382 338h13v5h-13zM208 343h7v5h-7zM370 343h12v5h-12zM208 348h7v5h-7zM345 348h19v5h-19zM215 353h6v6h-6zM320 353h13v6h-13zM227 359h44v5h-44z"/>
<path fill="#a41285" d="M407 137h13v5h-13zM420 142h18v5h-18zM382 158h13v5h-13zM277 163h6v5h-6zM302 168h6v5h-6zM258 173h6v5h-6zM320 178h13v5h-13zM196 189h12v5h-12zM246 189h6v5h-6zM221 194h18v5h-18zM370 199h12v5h-12zM389 199h12v5h-12zM357 204h7v5h-7zM401 204h6v5h-6zM184 209h6v5h-6zM184 214h6v5h-6zM444 225h7v5h-7zM451 230h6v5h-6zM457 235h6v5h-6zM457 256h6v5h-6zM420 266h6v5h-6zM184 292h6v5h-6zM190 302h6v5h-6zM401 302h6v5h-6zM196 307h6v5h-6zM196 312h6v5h-6zM202 317h6v5h-6zM395 317h6v5h-6zM202 322h6v6h-6zM202 328h13v5h-13zM389 328h6v5h-6zM382 333h7v5h-7zM376 338h6v5h-6zM357 343h13v5h-13zM326 348h19v5h-19zM221 353h6v6h-6zM314 353h6v6h-6z"/>
<path fill="#a61474" d="M271 168h31v5h-31zM308 173h6v5h-6zM333 183h6v6h-6zM190 194h6v5h-6zM215 194h6v5h-6zM239 194h7v5h-7zM339 199h6v5h-6zM382 199h7v5h-7zM364 204h6v5h-6zM389 204h12v5h-12zM407 209h6v5h-6zM413 214h7v5h-7zM420 219h6v6h-6zM432 225h12v5h-12zM444 230h7v5h-7zM451 235h6v5h-6zM457 240h6v5h-6zM457 245h6v5h-6zM457 250h6v6h-6zM451 256h6v5h-6zM438 261h6v5h-6zM413 266h7v5h-7zM184 276h6v5h-6zM184 281h6v5h-6zM184 286h6v6h-6zM401 286h6v6h-6zM401 292h6v5h-6zM190 297h6v5h-6zM401 297h6v5h-6zM196 302h6v5h-6zM395 302h6v5h-6zM202 307h6v5h-6zM395 307h6v5h-6zM202 312h13v5h-13zM389 312h12v5h-12zM208 317h7v5h-7zM389 317h6v5h-6zM208 322h7v6h-7zM382 322h13v6h-13zM382 328h7v5h-7zM376 333h6v5h-6zM215 338h6v5h-6zM357 338h19v5h-19zM215 343h6v5h-6zM333 343h24v5h-24zM215 348h6v5h-6zM320 348h6v5h-6zM227 353h6v6h-6zM271 353h43v6h-43z"/>
<path fill="#ab174f" d="M264 173h7v5h-7zM333 189h6v5h-6zM196 199h43v5h-43zM196 204h6v5h-6zM339 204h6v5h-6zM190 209h6v5h-6zM345 209h19v5h-19zM395 209h6v5h-6zM407 214h6v5h-6zM413 219h7v6h-7zM420 225h6v5h-6zM432 230h6v5h-6zM444 240h7v5h-7zM451 245h6v5h-6zM444 250h7v6h-7zM426 261h6v5h-6zM184 266h6v5h-6zM401 276h6v5h-6zM395 286h6v6h-6zM190 292h6v5h-6zM395 292h6v5h-6zM202 297h6v5h-6zM389 297h6v5h-6zM208 302h7v5h-7zM382 302h13v5h-13zM382 307h7v5h-7zM382 312h7v5h-7zM370 322h12v6h-12zM357 328h19v5h-19zM215 333h6v5h-6zM326 333h31v5h-31zM221 338h6v5h-6zM326 338h7v5h-7zM221 343h6v5h-6zM320 343h6v5h-6zM227 348h6v5h-6z"/>
<path fill="#b72200" d="M271 173h12v5h-12zM289 173h13v5h-13zM326 189h7v5h-7zM246 199h6v5h-6zM227 209h6v5h-6zM208 214h7v5h-7zM345 214h6v5h-6zM420 235h6v5h-6zM432 240h6v5h-6zM432 250h6v6h-6zM190 261h6v5h-6zM401 271h6v5h-6zM196 276h6v5h-6zM395 276h6v5h-6zM202 286h6v6h-6zM370 292h6v5h-6zM364 297h6v5h-6zM364 302h12v5h-12zM364 307h6v5h-6zM357 312h7v5h-7zM351 317h6v5h-6zM221 328h6v5h-6zM320 328h6v5h-6zM239 338h7v5h-7zM252 343h6v5h-6zM295 343h13v5h-13z"/>
<path fill="#b21e14" d="M283 173h6v5h-6zM252 189h6v5h-6zM233 204h6v5h-6zM208 209h7v5h-7zM196 214h6v5h-6zM395 214h6v5h-6zM407 225h6v5h-6zM432 235h6v5h-6zM438 240h6v5h-6zM438 250h6v6h-6zM432 256h6v5h-6zM413 261h7v5h-7zM190 271h6v5h-6zM389 281h6v5h-6zM382 286h7v6h-7zM202 292h6v5h-6zM215 302h6v5h-6zM376 307h6v5h-6zM370 312h6v5h-6zM357 317h7v5h-7zM320 333h6v5h-6zM239 343h7v5h-7z"/>
<path fill="#b01b28" d="M302 173h6v5h-6zM333 194h6v5h-6zM239 199h7v5h-7zM227 204h6v5h-6zM202 209h6v5h-6zM370 209h19v5h-19zM401 214h6v5h-6zM407 219h6v6h-6zM413 225h7v5h-7zM407 230h25v5h-25zM184 240h6v5h-6zM184 245h6v5h-6zM444 245h7v5h-7zM184 250h6v6h-6zM184 256h6v5h-6zM420 261h6v5h-6zM190 276h6v5h-6zM389 286h6v6h-6zM196 292h6v5h-6zM382 292h7v5h-7zM376 297h6v5h-6zM215 307h6v5h-6zM215 312h6v5h-6zM376 312h6v5h-6zM215 317h6v5h-6zM364 317h6v5h-6zM215 322h6v6h-6zM351 322h6v6h-6zM326 328h19v5h-19zM221 333h6v5h-6zM227 338h6v5h-6zM233 343h6v5h-6zM314 343h6v5h-6zM239 348h56v5h-56zM302 348h6v5h-6z"/>
<path fill="#ad193c" d="M258 178h6v5h-6zM314 178h6v5h-6zM326 183h7v6h-7zM246 194h6v5h-6zM202 204h25v5h-25zM196 209h6v5h-6zM364 209h6v5h-6zM389 209h6v5h-6zM190 214h6v5h-6zM184 225h6v5h-6zM184 230h6v5h-6zM184 235h6v5h-6zM438 235h6v5h-6zM438 256h6v5h-6zM184 261h6v5h-6zM190 281h6v5h-6zM190 286h6v6h-6zM389 292h6v5h-6zM208 297h7v5h-7zM382 297h7v5h-7zM370 317h12v5h-12zM357 322h13v6h-13zM215 328h6v5h-6zM345 328h12v5h-12zM320 338h6v5h-6zM227 343h6v5h-6zM233 348h6v5h-6zM295 348h7v5h-7zM308 348h6v5h-6z"/>
<path fill="#b92500" d="M264 178h7v5h-7zM320 183h6v6h-6zM239 204h7v5h-7zM233 209h6v5h-6zM215 214h6v5h-6zM196 219h6v6h-6zM395 219h6v6h-6zM401 225h6v5h-6zM190 230h6v5h-6zM190 235h6v5h-6zM413 235h7v5h-7zM190 240h6v5h-6zM426 240h6v5h-6zM190 245h6v5h-6zM190 250h6v6h-6zM426 250h6v6h-6zM190 256h6v5h-6zM420 256h6v5h-6zM196 271h6v5h-6zM382 281h7v5h-7zM208 286h7v6h-7zM364 286h12v6h-12zM215 292h6v5h-6zM357 292h13v5h-13zM351 297h13v5h-13zM221 302h6v5h-6zM351 302h13v5h-13zM221 307h6v5h-6zM351 307h13v5h-13zM221 312h6v5h-6zM351 312h6v5h-6zM221 317h6v5h-6zM345 317h6v5h-6zM221 322h6v6h-6zM339 322h6v6h-6zM227 328h6v5h-6zM233 333h6v5h-6zM246 338h6v5h-6zM283 343h12v5h-12z"/>
<path fill="#bd2a00" d="M271 178h6v5h-6zM283 178h6v5h-6zM302 178h6v5h-6zM252 194h6v5h-6zM326 194h7v5h-7zM246 204h6v5h-6zM239 209h7v5h-7zM227 214h6v5h-6zM339 214h6v5h-6zM208 219h7v6h-7zM351 219h38v6h-38zM426 245h6v5h-6zM420 250h6v6h-6zM196 261h6v5h-6zM407 261h6v5h-6zM202 276h6v5h-6zM389 276h6v5h-6zM208 281h19v5h-19zM376 281h6v5h-6zM221 286h6v6h-6zM351 286h6v6h-6zM221 292h6v5h-6zM345 292h6v5h-6zM227 297h6v5h-6zM339 297h6v5h-6zM227 302h6v5h-6zM333 302h6v5h-6zM227 307h6v5h-6zM326 307h13v5h-13zM227 312h6v5h-6zM326 312h13v5h-13zM227 317h6v5h-6zM326 317h13v5h-13zM233 322h6v6h-6zM320 322h13v6h-13zM233 328h6v5h-6zM302 338h18v5h-18z"/>
<path fill="#bf2d00" d="M277 178h6v5h-6zM289 178h13v5h-13zM233 214h6v5h-6zM215 219h6v6h-6zM345 219h6v6h-6zM196 225h6v5h-6zM196 230h6v5h-6zM401 235h6v5h-6zM413 240h7v5h-7zM420 245h6v5h-6zM196 256h6v5h-6zM413 256h7v5h-7zM202 271h6v5h-6zM395 271h6v5h-6zM208 276h31v5h-31zM382 276h7v5h-7zM227 281h12v5h-12zM351 281h25v5h-25zM227 286h6v6h-6zM345 286h6v6h-6zM227 292h6v5h-6zM326 302h7v5h-7zM233 307h6v5h-6zM320 307h6v5h-6zM233 312h6v5h-6zM320 312h6v5h-6zM233 317h6v5h-6zM314 317h12v5h-12zM314 322h6v6h-6zM308 328h12v5h-12zM246 333h6v5h-6zM302 333h18v5h-18zM252 338h6v5h-6zM295 338h7v5h-7z"/>
<path fill="#bb2800" d="M308 178h6v5h-6zM258 183h6v6h-6zM333 204h6v5h-6zM221 214h6v5h-6zM202 219h6v6h-6zM389 219h6v6h-6zM190 225h6v5h-6zM401 230h6v5h-6zM407 235h6v5h-6zM420 240h6v5h-6zM432 245h6v5h-6zM196 266h6v5h-6zM202 281h6v5h-6zM215 286h6v6h-6zM357 286h7v6h-7zM351 292h6v5h-6zM221 297h6v5h-6zM345 297h6v5h-6zM339 302h12v5h-12zM339 307h12v5h-12zM339 312h12v5h-12zM339 317h6v5h-6zM227 322h6v6h-6zM333 322h6v6h-6zM239 333h7v5h-7zM258 343h25v5h-25z"/>
<path fill="#a91562" d="M252 183h6v6h-6zM196 194h19v5h-19zM190 199h6v5h-6zM190 204h6v5h-6zM370 204h19v5h-19zM401 209h6v5h-6zM184 219h6v6h-6zM426 225h6v5h-6zM438 230h6v5h-6zM444 235h7v5h-7zM451 240h6v5h-6zM451 250h6v6h-6zM444 256h7v5h-7zM432 261h6v5h-6zM184 271h6v5h-6zM407 271h6v5h-6zM395 281h6v5h-6zM196 297h6v5h-6zM395 297h6v5h-6zM202 302h6v5h-6zM208 307h7v5h-7zM389 307h6v5h-6zM382 317h7v5h-7zM376 328h6v5h-6zM357 333h19v5h-19zM333 338h24v5h-24zM326 343h7v5h-7zM221 348h6v5h-6zM314 348h6v5h-6zM233 353h38v6h-38z"/>
<path fill="#c63700" d="M264 183h7v6h-7zM252 204h6v5h-6zM246 214h6v5h-6zM233 219h6v6h-6zM339 219h6v6h-6zM208 225h7v5h-7zM351 225h38v5h-38zM202 230h6v5h-6zM407 250h6v6h-6zM208 261h7v5h-7zM401 261h6v5h-6zM239 266h7v5h-7zM395 266h6v5h-6zM345 271h6v5h-6zM339 281h6v5h-6zM239 286h7v6h-7zM239 292h7v5h-7zM239 297h7v5h-7zM239 302h7v5h-7zM314 302h6v5h-6zM239 307h7v5h-7zM308 307h6v5h-6zM302 312h6v5h-6zM246 322h6v6h-6zM295 328h7v5h-7zM258 333h6v5h-6zM283 333h12v5h-12z"/>
<path fill="#cc4200" d="M271 183h6v6h-6zM246 219h6v6h-6zM227 225h6v5h-6zM215 230h6v5h-6zM351 230h6v5h-6zM370 230h6v5h-6zM202 240h6v5h-6zM395 240h6v5h-6zM202 245h6v5h-6zM395 245h6v5h-6zM395 250h6v6h-6zM215 256h6v5h-6zM389 256h6v5h-6zM351 261h19v5h-19zM389 261h6v5h-6zM246 266h6v5h-6zM339 266h6v5h-6zM333 271h6v5h-6zM326 276h7v5h-7zM326 281h7v5h-7zM333 286h6v6h-6zM326 292h7v5h-7zM308 297h18v5h-18zM295 302h7v5h-7zM295 307h7v5h-7zM295 312h7v5h-7zM289 317h6v5h-6zM258 322h6v6h-6zM283 322h6v6h-6zM264 328h19v5h-19z"/>
<path fill="#ce4600" d="M277 183h6v6h-6zM308 183h6v6h-6zM258 194h6v5h-6zM320 194h6v5h-6zM252 214h6v5h-6zM233 225h6v5h-6zM339 225h6v5h-6zM221 230h12v5h-12zM376 230h13v5h-13zM357 235h13v5h-13zM389 235h6v5h-6zM208 250h7v6h-7zM389 250h6v6h-6zM221 256h18v5h-18zM357 256h7v5h-7zM246 261h6v5h-6zM345 261h6v5h-6zM370 261h19v5h-19zM333 266h6v5h-6zM326 271h7v5h-7zM258 276h6v5h-6zM320 276h6v5h-6zM258 281h6v5h-6zM320 281h6v5h-6zM252 286h6v6h-6zM326 286h7v6h-7zM252 292h6v5h-6zM314 292h12v5h-12zM295 297h13v5h-13zM289 302h6v5h-6zM289 307h6v5h-6zM252 312h6v5h-6zM289 312h6v5h-6zM252 317h12v5h-12zM283 317h6v5h-6zM264 322h7v6h-7zM277 322h6v6h-6z"/>
<path fill="#d04a00" d="M283 183h6v6h-6zM333 219h6v6h-6zM239 225h7v5h-7zM233 230h6v5h-6zM208 235h7v5h-7zM351 235h6v5h-6zM357 240h7v5h-7zM389 240h6v5h-6zM357 245h7v5h-7zM389 245h6v5h-6zM215 250h6v6h-6zM357 250h13v6h-13zM239 256h7v5h-7zM351 256h6v5h-6zM364 256h6v5h-6zM326 266h7v5h-7zM258 271h6v5h-6zM320 271h6v5h-6zM252 276h6v5h-6zM314 276h6v5h-6zM252 281h6v5h-6zM314 281h6v5h-6zM258 286h6v6h-6zM314 286h12v6h-12zM258 292h6v5h-6zM295 292h19v5h-19zM252 297h12v5h-12zM289 297h6v5h-6zM252 302h12v5h-12zM252 307h12v5h-12zM258 312h6v5h-6zM283 312h6v5h-6zM264 317h7v5h-7zM271 322h6v6h-6z"/>
<path fill="#d24e00" d="M289 183h19v6h-19zM314 189h6v5h-6zM258 199h6v5h-6zM326 209h7v5h-7zM345 230h6v5h-6zM370 235h6v5h-6zM208 240h7v5h-7zM351 240h6v5h-6zM364 240h6v5h-6zM208 245h7v5h-7zM351 245h6v5h-6zM364 245h6v5h-6zM221 250h6v6h-6zM351 250h6v6h-6zM370 250h6v6h-6zM246 256h6v5h-6zM370 256h6v5h-6zM339 261h6v5h-6zM252 266h12v5h-12zM320 266h6v5h-6zM252 271h6v5h-6zM314 271h6v5h-6zM308 276h6v5h-6zM264 281h7v5h-7zM308 281h6v5h-6zM295 286h19v6h-19zM289 292h6v5h-6zM283 302h6v5h-6zM283 307h6v5h-6zM264 312h7v5h-7zM271 317h12v5h-12z"/>
<path fill="#c33400" d="M314 183h6v6h-6zM333 209h6v5h-6zM227 219h6v6h-6zM389 225h6v5h-6zM395 230h6v5h-6zM401 240h6v5h-6zM407 245h6v5h-6zM407 256h6v5h-6zM202 261h6v5h-6zM208 266h31v5h-31zM239 271h7v5h-7zM351 271h44v5h-44zM239 276h7v5h-7zM345 276h6v5h-6zM239 281h7v5h-7zM339 286h6v6h-6zM314 307h6v5h-6zM239 312h7v5h-7zM308 312h6v5h-6zM239 317h7v5h-7zM302 317h6v5h-6zM302 322h6v6h-6zM246 328h6v5h-6zM252 333h6v5h-6zM295 333h7v5h-7zM264 338h19v5h-19z"/>
<path fill="#5a00b4" d="M482 183h18v6h-18zM482 189h18v5h-18zM482 194h18v5h-18zM134 230h6v5h-6zM121 235h13v5h-13zM121 240h7v5h-7zM121 250h19v6h-19zM121 256h19v5h-19z"/>
<path fill="#c83b00" d="M258 189h6v5h-6zM239 219h7v6h-7zM215 225h6v5h-6zM345 225h6v5h-6zM389 230h6v5h-6zM401 245h6v5h-6zM202 256h6v5h-6zM215 261h24v5h-24zM345 266h50v5h-50zM339 276h6v5h-6zM246 286h6v6h-6zM333 297h6v5h-6zM308 302h6v5h-6zM302 307h6v5h-6zM246 317h6v5h-6zM295 322h7v6h-7zM252 328h6v5h-6zM289 328h6v5h-6zM264 333h19v5h-19z"/>
<path fill="#d96100" d="M264 189h7v5h-7zM320 204h6v5h-6zM258 219h6v6h-6zM252 225h6v5h-6zM246 230h6v5h-6zM233 240h6v5h-6zM233 245h6v5h-6zM252 250h6v6h-6zM264 256h7v5h-7zM271 261h18v5h-18zM326 261h7v5h-7zM277 266h6v5h-6zM277 286h6v6h-6zM277 292h6v5h-6zM271 297h12v5h-12zM271 302h12v5h-12z"/>
<path fill="#dd6c00" d="M271 189h6v5h-6zM320 209h6v5h-6zM326 219h7v6h-7zM252 230h6v5h-6zM246 240h6v5h-6zM277 240h6v5h-6zM246 245h18v5h-18zM277 245h6v5h-6zM264 250h7v6h-7zM277 250h6v6h-6z"/>
<path fill="#df7100" d="M277 189h12v5h-12zM258 230h6v5h-6zM339 230h6v5h-6zM252 235h12v5h-12zM277 235h6v5h-6zM252 240h12v5h-12zM264 245h13v5h-13zM271 250h6v6h-6zM333 256h6v5h-6z"/>
<path fill="#e27d00" d="M289 189h6v5h-6zM314 194h6v5h-6zM271 230h12v5h-12zM339 235h6v5h-6zM333 250h6v6h-6z"/>
<path fill="#e88f00" d="M295 189h7v5h-7zM264 199h7v5h-7zM314 199h6v5h-6zM264 204h7v5h-7zM314 204h6v5h-6zM264 209h7v5h-7zM271 219h6v6h-6zM277 225h6v5h-6zM314 256h6v5h-6z"/>
<path fill="#e68900" d="M302 189h6v5h-6zM277 194h6v5h-6zM264 214h7v5h-7zM264 219h7v6h-7zM320 219h6v6h-6zM271 225h6v5h-6zM283 230h6v5h-6zM333 240h6v5h-6zM283 256h6v5h-6zM320 256h6v5h-6z"/>
<path fill="#e07700" d="M308 189h6v5h-6zM320 214h6v5h-6zM326 225h7v5h-7zM264 230h7v5h-7zM333 230h6v5h-6zM264 235h13v5h-13zM264 240h13v5h-13zM339 250h6v6h-6zM295 261h13v5h-13z"/>
<path fill="#c13000" d="M320 189h6v5h-6zM252 199h6v5h-6zM326 199h7v5h-7zM246 209h6v5h-6zM239 214h7v5h-7zM221 219h6v6h-6zM202 225h6v5h-6zM395 225h6v5h-6zM196 235h6v5h-6zM196 240h6v5h-6zM407 240h6v5h-6zM196 245h6v5h-6zM413 245h7v5h-7zM196 250h6v6h-6zM413 250h7v6h-7zM202 266h6v5h-6zM401 266h6v5h-6zM208 271h31v5h-31zM351 276h31v5h-31zM345 281h6v5h-6zM233 286h6v6h-6zM233 292h6v5h-6zM339 292h6v5h-6zM233 297h6v5h-6zM233 302h6v5h-6zM320 302h6v5h-6zM314 312h6v5h-6zM308 317h6v5h-6zM239 322h7v6h-7zM308 322h6v6h-6zM239 328h7v5h-7zM302 328h6v5h-6zM258 338h6v5h-6zM283 338h12v5h-12z"/>
<path fill="#e48300" d="M264 194h7v5h-7zM264 225h7v5h-7zM333 235h6v5h-6zM339 240h6v5h-6zM333 245h12v5h-12zM326 256h7v5h-7z"/>
<path fill="#e99600" d="M271 194h6v5h-6zM283 194h6v5h-6zM277 199h6v5h-6zM314 209h6v5h-6zM271 214h6v5h-6zM314 214h6v5h-6zM277 219h6v6h-6zM326 250h7v6h-7zM289 256h25v5h-25z"/>
<path fill="#f2ba00" d="M289 194h6v5h-6zM308 214h6v5h-6zM289 219h6v6h-6zM302 225h6v5h-6zM295 230h13v5h-13zM295 235h19v5h-19zM326 235h7v5h-7zM295 240h19v5h-19zM326 240h7v5h-7zM295 245h13v5h-13z"/>
<path fill="#f5ca00" d="M295 194h7v5h-7zM289 199h6v5h-6zM289 204h6v5h-6zM308 204h6v5h-6zM289 209h6v5h-6zM295 219h13v6h-13z"/>
<path fill="#f4c200" d="M302 194h6v5h-6zM308 199h6v5h-6zM308 209h6v5h-6zM289 214h6v5h-6zM295 225h7v5h-7zM314 235h12v5h-12zM314 240h12v5h-12z"/>
<path fill="#efab00" d="M308 194h6v5h-6zM314 225h6v5h-6zM320 230h6v5h-6zM320 245h6v5h-6zM289 250h6v6h-6zM302 250h12v6h-12z"/>
<path fill="#eda400" d="M271 199h6v5h-6zM271 204h6v5h-6zM283 219h6v6h-6zM283 235h6v5h-6zM283 240h6v5h-6zM283 245h6v5h-6zM326 245h7v5h-7zM314 250h6v6h-6z"/>
<path fill="#f0b200" d="M283 199h6v5h-6zM283 204h6v5h-6zM283 209h6v5h-6zM283 214h6v5h-6zM308 219h6v6h-6zM289 225h6v5h-6zM308 225h6v5h-6zM289 230h6v5h-6zM308 230h12v5h-12zM289 235h6v5h-6zM289 240h6v5h-6zM289 245h6v5h-6zM308 245h12v5h-12zM295 250h7v6h-7z"/>
<path fill="#fae300" d="M295 199h7v5h-7zM295 204h7v5h-7zM302 209h6v5h-6z"/>
<path fill="#fcec00" d="M302 199h6v5h-6z"/>
<path fill="#d55700" d="M320 199h6v5h-6zM258 209h6v5h-6zM227 235h12v5h-12zM345 235h6v5h-6zM376 235h6v5h-6zM215 240h12v5h-12zM370 240h6v5h-6zM221 245h6v5h-6zM370 245h6v5h-6zM239 250h7v6h-7zM252 256h6v5h-6zM264 261h7v5h-7zM264 266h7v5h-7zM289 271h19v5h-19zM289 276h13v5h-13zM289 281h6v5h-6z"/>
<path fill="#b42000" d="M333 199h6v5h-6zM215 209h12v5h-12zM339 209h6v5h-6zM202 214h6v5h-6zM351 214h44v5h-44zM190 219h6v6h-6zM401 219h6v6h-6zM426 235h6v5h-6zM438 245h6v5h-6zM426 256h6v5h-6zM190 266h6v5h-6zM407 266h6v5h-6zM196 281h6v5h-6zM196 286h6v6h-6zM376 286h6v6h-6zM208 292h7v5h-7zM376 292h6v5h-6zM215 297h6v5h-6zM370 297h6v5h-6zM376 302h6v5h-6zM370 307h6v5h-6zM364 312h6v5h-6zM345 322h6v6h-6zM227 333h6v5h-6zM233 338h6v5h-6zM246 343h6v5h-6zM308 343h6v5h-6z"/>
<path fill="#d35300" d="M258 204h6v5h-6zM252 219h6v6h-6zM246 225h6v5h-6zM333 225h6v5h-6zM239 230h7v5h-7zM215 235h12v5h-12zM382 235h7v5h-7zM215 245h6v5h-6zM227 250h12v6h-12zM376 250h13v6h-13zM345 256h6v5h-6zM376 256h13v5h-13zM252 261h12v5h-12zM314 266h6v5h-6zM264 271h7v5h-7zM308 271h6v5h-6zM264 276h7v5h-7zM302 276h6v5h-6zM295 281h13v5h-13zM264 286h7v6h-7zM289 286h6v6h-6zM264 292h7v5h-7zM264 297h7v5h-7zM283 297h6v5h-6zM264 302h7v5h-7zM264 307h7v5h-7zM271 312h12v5h-12z"/>
<path fill="#eb9d00" d="M277 204h6v5h-6zM271 209h12v5h-12zM277 214h6v5h-6zM314 219h6v6h-6zM283 225h6v5h-6zM320 225h6v5h-6zM326 230h7v5h-7zM283 250h6v6h-6zM320 250h6v6h-6z"/>
<path fill="#ffff00" d="M302 204h6v5h-6z"/>
<path fill="#ca3e00" d="M326 204h7v5h-7zM252 209h6v5h-6zM333 214h6v5h-6zM221 225h6v5h-6zM208 230h7v5h-7zM357 230h13v5h-13zM202 235h6v5h-6zM395 235h6v5h-6zM202 250h6v6h-6zM401 250h6v6h-6zM208 256h7v5h-7zM395 256h12v5h-12zM239 261h7v5h-7zM395 261h6v5h-6zM246 271h6v5h-6zM339 271h6v5h-6zM246 276h6v5h-6zM333 276h6v5h-6zM246 281h6v5h-6zM333 281h6v5h-6zM246 292h6v5h-6zM333 292h6v5h-6zM246 297h6v5h-6zM326 297h7v5h-7zM246 302h6v5h-6zM302 302h6v5h-6zM246 307h6v5h-6zM246 312h6v5h-6zM295 317h7v5h-7zM252 322h6v6h-6zM289 322h6v6h-6zM258 328h6v5h-6zM283 328h6v5h-6z"/>
<path fill="#f9db00" d="M295 209h7v5h-7z"/>
<path fill="#d75c00" d="M258 214h6v5h-6zM326 214h7v5h-7zM239 235h7v5h-7zM227 240h6v5h-6zM345 240h6v5h-6zM376 240h13v5h-13zM227 245h6v5h-6zM345 245h6v5h-6zM376 245h13v5h-13zM246 250h6v6h-6zM345 250h6v6h-6zM258 256h6v5h-6zM333 261h6v5h-6zM271 266h6v5h-6zM283 266h31v5h-31zM271 271h6v5h-6zM283 271h6v5h-6zM271 276h6v5h-6zM283 276h6v5h-6zM271 281h6v5h-6zM283 281h6v5h-6zM271 286h6v6h-6zM283 286h6v6h-6zM271 292h6v5h-6zM271 307h12v5h-12z"/>
<path fill="#f7d200" d="M295 214h13v5h-13z"/>
<path fill="#db6600" d="M258 225h6v5h-6zM246 235h6v5h-6zM239 240h7v5h-7zM239 245h7v5h-7zM258 250h6v6h-6zM271 256h12v5h-12zM339 256h6v5h-6zM289 261h6v5h-6zM308 261h18v5h-18zM277 271h6v5h-6zM277 276h6v5h-6zM277 281h6v5h-6zM283 292h6v5h-6z"/>
<path fill="#5600a6" d="M134 235h6v5h-6zM128 240h12v5h-12zM121 245h19v5h-19z"/>
<g class="c"><polyline points="77.2,97.2 79.4,98.8 82.5,100.0 86.2,101.2 84.8,103.8 83.1,105.6 80.6,104.4 77.5,103.5 75.2,104.8"/>
<polyline points="92.5,98.8 96.2,96.2 100.6,94.0 104.4,92.5 110.6,92.2 113.8,93.1 118.8,93.4 122.5,94.8 125.0,95.6 128.1,95.6 130.0,96.5 132.5,96.0 135.0,95.2 137.5,94.4 139.4,93.5 141.2,94.8 143.8,96.0 146.2,96.5 150.0,95.6"/>
<polyline points="92.5,98.8 94.4,100.0 96.9,100.6 98.8,101.5 94.4,101.9 90.0,103.5 93.8,103.8 96.9,103.5 96.9,105.0 99.4,105.4 98.1,106.9 95.6,108.1 94.1,110.0 94.1,113.1 95.6,115.6 98.1,117.5 100.6,118.8 103.8,118.5 101.9,120.6 100.0,123.1 97.8,125.2 100.6,123.8 103.1,122.5 105.6,120.6 107.5,117.5 110.0,115.0 113.8,113.5 114.4,116.2 115.6,114.4 120.0,114.4 123.8,115.0 126.2,116.2 129.4,117.5 131.9,118.1 134.4,120.6 136.2,123.8 138.1,126.2 140.6,128.8 142.5,131.9 141.2,133.8 143.8,136.2 146.2,138.1 145.0,139.8"/>
<polyline points="90.0,128.1 91.9,127.2"/>
<polyline points="87.0,130.5 88.0,130.0"/>
<polyline points="82.0,131.5 83.0,131.0"/>
<polyline points="77.5,132.5 79.8,132.5"/>
<polyline points="108.8,119.8 110.6,120.6"/>
<polyline points="135.0,128.1 134.0,129.4"/>
<polyline points="187.2,71.2 190.2,69.8 198.8,69.8 200.0,68.8 204.4,67.5 215.0,67.5 218.8,68.8 220.0,70.6"/>
<polyline points="191.2,71.5 196.2,71.5 197.5,72.5 204.4,72.5 202.5,73.5 195.0,74.4 193.1,76.2 191.2,77.2 195.0,77.2 193.1,79.4 191.9,80.6 190.0,81.2 186.2,81.9 183.8,82.8"/>
<polyline points="220.0,70.6 218.1,71.9 215.0,72.5 213.1,73.8 208.8,75.6 205.6,76.9 203.8,78.5 200.0,79.8 199.4,81.2 197.5,82.2 192.5,82.8 188.8,83.5 186.2,83.8 183.1,82.8"/>
<polyline points="220.0,70.6 221.9,70.0 226.2,69.6 230.0,69.1"/>
<polyline points="218.1,72.5 215.6,74.4 213.8,76.2 211.9,78.1 211.2,80.0 213.8,81.2 215.6,81.9 218.8,82.2 222.5,82.5 225.0,83.5 227.5,84.8 230.0,86.2"/>
<polyline points="211.9,79.4 215.0,78.5"/>
<polyline points="183.1,82.8 187.5,84.0 192.5,84.4 197.5,83.8 200.6,83.5 199.4,84.8 193.8,85.6 190.0,85.2"/>
<polyline points="193.1,86.2 191.2,88.8 189.4,90.6 188.8,93.1 190.6,94.4 193.1,92.5 192.5,89.8 193.1,86.2"/>
<polyline points="193.8,88.1 200.0,88.8 205.0,89.8 208.1,91.2 211.2,93.1 214.4,94.4 216.9,96.9 219.4,98.8 221.2,101.2 221.9,103.8 220.6,105.0 217.5,103.1 215.6,104.0 215.0,105.6 217.5,107.5 219.4,108.8"/>
<polyline points="193.8,88.1 193.1,93.8 195.6,96.5 200.6,94.4 203.8,95.0 206.2,98.1 209.4,99.4 212.5,101.2 210.0,102.5 206.9,104.4 203.8,106.2 205.6,106.9 208.8,106.2 212.5,106.9 215.0,108.8"/>
<polyline points="150.0,81.2 153.1,80.0 155.6,79.4"/>
<polyline points="155.6,81.9 157.5,83.5 161.9,83.8 164.4,81.9 165.0,80.0 166.9,82.5 167.5,84.4 162.5,85.6 158.8,85.0 156.2,83.5 155.6,81.9"/>
<polyline points="162.5,78.1 160.0,78.8 163.8,77.2"/>
<polyline points="169.4,75.6 171.2,76.9 173.8,78.1 175.6,80.0 176.9,81.9 175.0,83.8 173.8,81.9"/>
<polyline points="178.8,76.9 180.0,79.4 181.9,81.2 183.1,82.8"/>
<polyline points="150.0,86.2 152.5,88.1 156.2,89.4 162.5,89.4 165.6,90.0 166.9,88.1 165.0,86.9 167.5,88.8 170.0,91.9 172.5,93.8 173.8,95.6 171.2,96.9 167.5,96.5 165.0,97.5 161.2,96.5 157.5,96.9 156.2,94.4 155.0,91.9 156.2,89.4"/>
<polyline points="150.0,90.0 151.9,89.4"/>
<polyline points="150.0,96.2 153.8,98.1 158.8,98.8 162.5,100.0 165.0,101.2 167.5,99.4 170.6,98.1 173.1,98.8 176.9,98.1 179.4,100.0 180.6,101.2 182.5,98.8 183.8,95.6 185.0,93.8 183.1,92.5 180.0,92.5 181.9,93.8"/>
<polyline points="172.5,88.8 175.6,86.2 177.5,88.8 176.9,92.5 174.4,90.6 172.5,88.8"/>
<polyline points="181.2,88.1 183.8,86.2 184.4,88.1 181.2,88.1"/>
<polyline points="183.8,93.8 185.6,96.2 188.1,97.5 193.1,98.1 195.6,96.5 198.1,96.9 197.5,99.4 194.4,101.2 191.2,103.1 188.8,105.0 186.9,106.2 183.8,106.9 180.6,106.9 183.8,108.1 186.2,109.4"/>
<polyline points="150.0,101.2 152.5,100.6"/>
<polyline points="150.0,105.0 151.9,103.1"/>
<polyline points="193.8,103.8 196.2,105.6 198.1,107.5 196.2,108.8 193.8,108.1 193.8,103.8"/>
<polyline points="230.0,69.4 242.5,69.4 243.8,68.5 248.8,68.1 251.2,66.5 260.6,66.5 261.2,67.5 269.4,67.5 267.5,69.4 267.5,72.5 275.0,72.5 275.6,71.5 282.5,71.5"/>
<polyline points="282.5,71.5 280.0,72.5 277.5,73.8 275.0,75.6 274.4,76.9 276.2,79.4 273.1,80.6 273.8,83.1 271.2,85.6 268.8,86.9 266.5,88.5 268.8,88.8 270.0,90.6 272.5,91.2 267.5,91.9 265.6,93.1 266.2,94.8 269.4,95.2 266.2,97.2 259.4,97.5 257.5,99.4 256.2,101.9 252.5,102.5 250.0,103.8 248.8,106.2 247.5,110.0"/>
<polyline points="230.0,86.2 231.2,87.5 231.2,91.2 235.0,92.5 235.6,97.5 233.1,99.4 232.5,101.2 234.4,103.8 236.2,105.6 236.9,108.1 237.5,110.0"/>
<polyline points="270.6,103.1 271.2,102.2 279.4,102.2 279.4,101.2 280.0,104.0 280.6,106.2 276.9,106.9 273.8,107.5 272.5,105.0 270.6,103.1"/>
<polyline points="315.6,75.6 320.0,75.0 321.2,74.4 328.8,74.4 334.4,74.4 330.0,75.6 325.0,75.6 327.5,76.9 325.0,78.1 328.1,79.4 329.4,79.8"/>
<polyline points="325.0,78.1 322.5,80.0 320.0,81.2 319.4,78.8 317.5,76.5 315.6,75.6"/>
<polyline points="317.5,76.5 316.2,78.5"/>
<polyline points="353.1,74.4 355.6,73.5 358.1,73.5 359.4,74.4 362.5,73.8"/>
<polyline points="379.4,72.5 380.6,72.5"/>
<polyline points="385.0,80.2 381.2,81.9 377.5,83.1 373.8,84.4 370.6,86.0 368.1,87.5 365.6,89.4 366.9,91.2 368.8,92.8 371.2,93.8 368.8,91.9 367.5,89.8 370.0,87.5 373.8,85.6 377.5,84.0 381.9,82.2 385.0,80.2"/>
<polyline points="310.0,109.8 313.8,106.2 317.5,101.2 320.0,98.8 323.8,96.9 328.8,94.4 333.8,93.5 335.6,93.8 336.9,95.2 341.2,96.9 345.0,98.8 348.8,100.6 351.2,101.2 347.5,101.9 340.6,102.2 341.9,104.4 343.1,106.2 351.2,106.5 353.8,104.4 355.0,103.8 355.6,101.2 355.6,98.1 356.9,101.2 358.8,100.6 362.5,98.5 368.8,98.1 375.0,98.1 376.2,97.2 381.2,96.9 384.4,95.0 385.0,92.5 387.5,91.9 390.0,91.2"/>
<polyline points="330.0,104.4 327.5,106.2 325.6,108.1 322.5,109.8"/>
<polyline points="390.0,99.8 386.9,100.6 385.6,101.5 390.0,102.5"/>
<polyline points="414.4,74.4 416.9,72.5 418.8,72.8 416.9,73.8 420.6,75.0 423.8,75.4 420.0,75.4 418.1,76.5 416.2,75.6 414.4,74.4"/>
<polyline points="425.6,75.6 426.2,78.1"/>
<polyline points="390.0,91.2 392.5,90.6 395.0,91.0 397.5,90.2 400.6,89.8 401.9,88.1 405.0,87.2 407.5,85.0 410.0,83.5 413.8,82.8 420.0,82.2 424.4,81.2 426.2,79.8 428.1,79.4 431.2,81.0 433.8,82.2 436.9,82.8 440.0,83.5 436.9,85.0 433.8,86.5 438.1,87.2 446.2,87.2 455.0,87.2 456.9,88.8 458.1,90.2 461.2,91.9 463.1,92.5 465.0,91.2 468.1,91.0 470.0,90.6"/>
<polyline points="390.0,91.2 391.2,93.8 390.6,97.5 391.9,98.1 393.1,95.0 394.4,91.9 396.2,91.2 397.5,93.1 396.9,93.8"/>
<polyline points="400.6,89.8 401.9,91.9 403.8,93.5 404.8,94.8"/>
<polyline points="390.0,102.5 392.5,100.6 395.0,98.1 396.9,99.8 399.4,101.5"/>
<polyline points="393.8,93.8 392.5,95.6"/>
<polyline points="470.6,83.5 471.9,82.5 474.4,82.5 475.6,83.5 479.4,83.5 481.2,84.4 483.1,84.4"/>
<polyline points="472.5,84.4 475.0,84.4"/>
<polyline points="470.0,91.0 471.2,90.0 473.1,89.4 482.5,89.4 484.4,90.6 488.1,92.2 492.5,93.5 496.2,94.4 502.5,94.4 504.4,95.2 508.8,95.2 510.0,94.4 513.1,94.4 515.0,95.2 518.8,95.6 520.6,96.5 523.1,96.9 523.8,97.8"/>
<polyline points="523.8,104.4 521.9,105.6 521.0,107.5 520.6,110.0"/>
<polyline points="151.2,112.5 155.0,111.9 158.8,111.0 162.5,110.0"/>
<polyline points="159.4,118.1 162.5,117.2 166.2,116.9 170.0,117.8 172.5,118.8 172.5,121.2 173.1,123.1 175.6,121.9 177.5,120.6"/>
<polyline points="184.4,110.0 182.8,112.5 181.2,115.0 180.6,117.5 182.5,119.4 185.0,121.9 188.8,122.8 191.9,123.5 194.4,126.2 196.2,128.8 198.8,131.2 201.2,132.5 201.9,130.6 201.9,127.5 202.5,123.1 203.1,120.0 203.1,116.2 202.5,112.5 203.8,111.5 207.5,111.9 210.6,112.2 212.5,115.0 215.0,117.5 218.8,116.9 221.2,118.8 223.1,121.9 225.0,125.0 226.9,128.8 228.8,130.6 230.0,131.5"/>
<polyline points="199.4,122.5 201.2,123.1"/>
<polyline points="175.6,131.2 176.2,129.4 178.1,127.5 178.5,130.6 178.5,135.0 176.9,135.0 176.2,133.1 175.6,131.2"/>
<polyline points="180.6,138.1 182.5,136.0 184.4,134.4"/>
<polyline points="184.4,140.0 186.9,138.1 188.8,137.5 190.6,139.0 193.1,141.2 195.6,142.8 196.9,145.0 196.9,147.5 194.4,146.9 192.5,144.4 191.2,142.8 188.8,142.2 185.6,142.2 187.5,140.6 184.4,140.0"/>
<polyline points="193.1,145.0 191.9,147.5 190.6,149.4 193.1,147.5"/>
<polyline points="196.9,147.5 197.5,150.0 198.8,151.0 200.0,150.0"/>
<polyline points="197.5,150.6 201.2,148.8 205.0,146.9 208.8,145.0 211.2,143.5 213.8,141.9 215.0,140.0 217.5,137.2 221.2,135.6 225.0,134.4 228.1,133.1 230.0,131.5"/>
<polyline points="215.0,141.9 218.1,140.0 219.4,138.8 218.1,141.2 220.0,143.1 222.5,143.8 224.4,142.8 221.2,142.2"/>
<polyline points="216.2,145.6 217.5,147.5 220.0,146.2 223.1,145.0"/>
<polyline points="226.2,136.2 228.1,135.0 226.9,138.8 226.2,140.6 228.1,141.9 230.0,141.2"/>
<polyline points="215.0,142.2 213.8,145.0 211.9,148.8 210.0,152.5 208.1,155.6 206.2,158.8 204.8,160.6 204.4,161.9 203.5,165.0 201.9,168.1 201.2,170.0"/>
<polyline points="158.1,152.8 159.8,151.0"/>
<polyline points="150.0,165.0 151.9,166.9 153.1,169.4"/>
<polyline points="145.0,139.8 144.4,141.2 144.4,146.2 144.8,152.5 145.6,156.2 146.9,160.0 148.5,163.1 150.0,164.8"/>
<polyline points="237.5,110.0 238.8,112.8 243.1,113.5 245.2,115.2 246.2,112.5 246.5,110.0"/>
<polyline points="230.0,132.5 231.2,133.8 231.9,138.1 232.5,141.9 233.5,143.5 231.2,143.1 230.0,142.2"/>
<polyline points="291.2,118.5 293.8,118.8 295.6,120.0 296.9,123.8 298.1,127.5 299.4,130.6 301.2,133.1 298.1,134.4 295.0,135.0 295.6,133.1 293.8,130.0 293.1,126.9 295.0,125.6 293.1,125.0 291.9,121.9 290.6,121.2 291.2,118.5"/>
<polyline points="290.6,124.4 288.8,126.9 287.2,128.8 288.1,130.6 288.5,132.5 290.0,130.0 291.9,126.2 290.6,124.4"/>
<polyline points="297.5,113.5 298.5,114.4"/>
<polyline points="310.0,111.2 308.1,113.8 306.9,116.2 308.1,118.8 310.0,120.0"/>
<polyline points="310.0,123.8 308.8,126.9 306.9,130.0 305.0,133.1 302.5,135.6 300.0,136.9 296.2,137.8 294.4,138.8 295.6,140.6 297.5,142.8 298.5,144.4 295.6,146.2 292.5,148.1 290.6,150.6 289.4,153.1 288.5,156.2 289.4,158.8 290.6,161.2 291.2,163.5 295.0,163.1 298.1,161.9 300.0,158.1 301.2,155.0 302.5,153.1 305.0,151.2 308.1,149.4 310.0,149.0"/>
<polyline points="291.2,163.5 296.2,164.4 301.9,164.4 306.2,163.1 310.0,162.5"/>
<polyline points="291.2,163.5 291.9,165.6 290.6,168.1 290.6,170.0"/>
<polyline points="322.5,110.0 323.1,113.8 322.5,117.5 320.6,120.6 318.8,123.1 316.9,121.9 315.0,120.0 312.5,119.8 310.0,119.8"/>
<polyline points="310.0,123.1 313.1,124.4 314.4,126.2 315.0,128.5 316.9,128.1 320.0,127.2 321.9,125.6 324.4,124.0 327.5,121.9 330.6,120.2 333.1,118.5 335.0,116.5 331.9,116.2 329.4,115.6 328.1,113.1 326.9,110.0"/>
<polyline points="336.9,145.6 338.1,146.9 341.9,146.0 345.0,144.4 347.5,143.1 349.4,142.5 349.8,146.2 349.4,150.0 348.1,153.1 347.5,155.2 343.8,155.2 339.4,154.8 335.6,154.4 335.0,152.5 336.2,149.4 336.9,145.6"/>
<polyline points="335.6,154.4 333.1,156.5 332.5,158.1 333.1,160.0 334.4,161.9 336.9,163.5 340.0,164.4 341.9,165.6 343.8,166.9 343.1,168.8 342.5,170.0"/>
<polyline points="333.1,156.5 328.8,156.9 328.1,158.8 329.8,159.4 329.4,161.2 326.9,162.5 325.6,160.6 324.4,158.1 323.1,155.6 321.9,153.1 320.0,150.6 317.5,147.5 317.8,150.0 318.8,152.5 320.6,155.0 322.5,157.2 319.4,157.5 317.5,155.6 315.6,153.8 313.8,151.9 311.2,150.6 310.0,150.0"/>
<polyline points="310.0,154.4 311.2,155.6 310.0,156.5"/>
<polyline points="316.2,160.2 318.8,160.2"/>
<polyline points="310.0,161.9 312.2,162.5 312.8,166.2 313.5,170.0"/>
<polyline points="329.4,165.0 329.4,166.9"/>
<polyline points="360.6,143.8 362.5,143.1 364.4,142.8 364.0,145.6 363.8,148.8 364.8,152.5 365.6,156.2 366.5,158.8 366.2,160.6 363.8,160.6 360.6,159.4 360.0,155.0 359.8,150.6 359.8,146.9 360.6,143.8"/>
<polyline points="373.8,144.4 375.6,143.5 376.2,144.4 375.0,145.6 374.8,147.5 374.4,149.4 373.5,146.9 373.8,144.4"/>
<polyline points="391.2,147.5 393.8,145.6 396.2,144.8 398.8,143.1"/>
<polyline points="460.2,157.5 458.8,160.0 457.5,162.5 456.9,165.6 456.2,163.8 455.6,160.6 455.0,158.1 452.5,156.9 450.6,155.2 448.1,156.9 446.2,158.1 445.0,159.4 446.9,160.6 450.0,161.2 449.8,165.0 449.4,167.5 449.4,170.0"/>
<polyline points="469.4,127.5 470.6,125.0 472.5,121.9 473.8,119.0 476.9,118.1 482.5,116.5 487.5,116.2 491.2,116.0 492.5,113.8 494.4,111.5 496.9,112.8 500.0,113.1 503.1,111.5"/>
<polyline points="503.1,111.5 500.0,114.4 496.9,116.9 493.8,119.0 493.5,123.8 493.5,128.8 493.5,133.5 495.6,130.6 498.1,127.5 500.6,125.0 501.9,121.9 502.5,118.8 503.5,115.6 507.5,115.0 511.2,114.4 515.0,112.5 518.8,110.6 520.0,110.0"/>
<polyline points="469.4,127.5 471.9,129.0 474.4,130.0 473.8,133.8 473.1,137.5 472.8,141.0 470.6,143.1 467.5,146.2 464.4,149.4 461.5,152.5 460.2,155.6 460.2,157.5"/>
<polyline points="476.2,126.2 476.9,130.0 477.2,134.4 478.5,136.9 478.1,140.6 476.5,143.8 475.6,146.2 476.9,142.5 476.5,138.8 475.6,135.0 475.0,130.6 476.2,126.2"/>
<polyline points="475.6,146.9 477.5,148.8 479.0,150.0 476.9,151.2 474.4,151.2 474.0,153.1 474.4,149.4 475.6,146.9"/>
<polyline points="474.0,153.1 474.4,157.5 474.4,161.2 474.4,165.0 471.9,165.6 468.8,167.2 466.2,167.5 464.4,165.6 466.9,163.8 469.4,161.9 471.2,160.0 472.5,157.5 473.5,155.0 474.0,153.1"/>
<polyline points="464.4,165.6 465.0,168.1 462.5,169.0 461.2,170.0"/>
<polyline points="103.5,194.8 104.4,195.2"/>
<polyline points="150.0,164.8 153.1,170.0 154.0,173.8 155.2,177.5 156.9,181.9 158.8,185.0 160.6,187.5 162.5,188.5 164.4,188.8 166.2,190.6 168.1,193.8 170.0,196.9 171.9,200.0 173.8,202.2 177.5,204.0 181.2,205.6 183.8,207.2 186.2,209.4 189.4,211.2 191.9,213.8 193.8,216.2 195.6,218.8 196.9,220.0 200.0,220.6 202.5,221.5 203.1,224.4 202.5,227.5 202.2,230.0"/>
<polyline points="158.1,176.5 159.4,176.2 160.6,179.4 162.2,183.1 163.5,186.2 163.1,188.1 161.9,188.5"/>
<polyline points="158.1,176.5 157.5,178.1 158.8,181.2 160.0,184.4 161.2,186.9 162.2,188.1"/>
<polyline points="200.0,170.0 199.8,173.8 199.4,177.5 199.0,181.2 198.8,183.1 196.9,181.2 195.0,179.8 192.5,178.1 190.0,176.2 188.1,177.5 184.4,178.5 180.6,179.8 179.4,182.5 178.5,185.6 178.1,190.0 178.1,195.0 179.4,196.9 181.9,197.8 183.8,199.0 185.2,199.8 187.5,197.8 190.0,195.6 191.5,194.4 190.0,196.9 189.4,200.0 190.0,203.8 191.9,206.2 193.8,208.8 195.0,211.9 196.0,215.6 196.5,218.8 196.9,220.0"/>
<polyline points="194.4,194.4 196.2,193.1 198.8,194.4 201.9,195.0 204.4,196.5 207.5,197.2 203.8,196.0 201.2,195.6 198.1,195.0 195.6,194.4 194.4,194.4"/>
<polyline points="206.2,201.2 208.1,200.6 210.6,200.0 212.5,199.4 211.2,201.0 208.8,201.5 206.2,201.2"/>
<polyline points="202.5,187.8 203.5,189.4"/>
<polyline points="203.1,221.5 205.0,220.0 207.5,217.5 210.0,216.0 211.2,214.4 211.9,216.2 215.0,217.2 217.5,218.1 220.0,218.1"/>
<polyline points="289.4,170.0 288.8,172.5 286.2,175.6 284.4,179.4 282.5,183.8 280.6,187.5 279.4,191.2 279.0,196.2 279.0,202.5 279.4,208.8 280.2,213.8 281.5,218.1 283.1,221.2 285.0,224.4 288.1,226.9 291.2,228.1 294.4,228.8 296.9,227.8 300.0,227.2 303.1,227.8 306.2,229.4 307.5,230.0"/>
<polyline points="314.4,170.0 317.5,171.9 320.6,174.4 323.8,176.2 326.2,174.4 328.8,172.2 331.9,173.8 335.0,174.8 338.1,175.6 340.0,173.8 341.9,171.2 342.5,170.0"/>
<polyline points="330.0,173.5 333.8,174.0 336.9,174.8 338.8,175.6 340.0,173.8 341.2,171.5 342.5,170.0"/>
<polyline points="338.8,175.6 339.8,179.4 341.2,183.8 342.8,187.5 344.0,191.2 345.0,195.0 346.0,199.4 347.5,203.8 348.8,207.5 350.0,211.2 351.9,214.4 353.1,215.2 358.1,215.2 358.8,214.0 363.5,214.0 363.5,216.9 362.2,220.0 361.2,223.1 360.0,226.2 358.5,230.0"/>
<polyline points="339.8,179.4 341.9,181.5 344.4,184.4 346.2,187.5 347.5,191.9 348.8,196.2 350.0,200.6 351.2,205.6 352.5,208.1 355.0,210.0 358.1,211.2 360.6,209.8 363.1,207.5 366.2,205.0 368.8,202.2 370.6,200.0 371.9,196.9 372.5,193.1 370.0,191.5 366.9,190.0 363.8,188.1 362.2,185.6 361.9,182.5 361.2,178.8 362.8,180.6 364.4,183.1 366.9,185.6 370.0,186.9 373.1,187.5 376.2,188.5 379.4,188.8 381.9,190.6 384.4,192.5 386.9,195.0 389.4,197.5 390.0,201.2 390.6,205.0 391.5,208.8 392.5,212.5 393.5,216.2 394.4,220.0 396.2,218.1 398.1,215.6 399.8,213.1 400.6,210.0 401.2,206.2 403.8,203.1 406.2,200.6 408.8,198.1 410.0,196.9"/>
<polyline points="399.4,220.6 399.4,223.1 398.5,225.0 398.5,226.5"/>
<polyline points="410.0,196.9 411.5,193.8 412.5,195.6 414.4,198.8 416.2,201.9 418.1,204.4 420.0,206.9 420.6,211.2 421.2,215.0 421.9,220.0 423.1,223.8 424.4,226.9 425.6,228.8 426.2,230.0"/>
<polyline points="423.1,211.2 425.0,213.1 426.9,215.0 428.8,217.2 432.5,217.5 432.5,212.5 433.1,207.5 433.5,202.5 433.8,198.8 434.4,193.8 439.4,193.5 441.2,191.9 443.8,190.0 446.2,188.5 448.1,186.2 448.8,182.5 450.0,179.4 450.2,175.0 449.8,171.9 449.8,170.0"/>
<polyline points="423.1,211.2 423.5,216.2 424.0,221.2 424.8,225.0 425.2,227.5"/>
<polyline points="448.1,186.2 449.8,186.9 451.2,186.0"/>
<polyline points="435.0,198.1 436.9,197.2"/>
<polyline points="450.0,202.2 451.2,203.1 452.5,206.2 452.2,209.4 450.6,210.6 449.4,210.2 449.8,206.2 449.4,203.1 450.0,202.2"/>
<polyline points="447.2,217.5 448.8,215.2"/>
<polyline points="455.0,218.5 455.2,222.5 455.0,225.2 453.1,225.0 451.2,224.4 453.1,221.9 454.4,219.8 455.0,218.5"/>
<polyline points="445.6,224.4 443.8,226.9 441.9,228.8 440.6,230.0"/>
<polyline points="417.5,226.2 419.0,228.1 420.2,230.0"/>
<polyline points="460.6,170.0 461.9,172.5 462.8,173.5 463.8,171.2 464.0,170.0"/>
<polyline points="202.2,230.0 201.9,233.8 201.0,237.5 200.0,241.9 199.4,245.6 199.6,249.4 200.6,253.1 201.9,256.9 202.8,260.6 203.5,263.8 204.4,266.9 205.6,269.4 207.5,271.9 209.4,274.4 211.2,277.2 211.5,282.5 211.5,290.0"/>
<polyline points="232.2,230.0 233.8,232.5 235.0,235.6 236.9,238.8 238.8,241.2 241.2,243.1 243.8,244.4 246.9,245.2 249.4,247.5 251.9,250.0 254.4,252.5 256.5,255.0 255.6,258.1 254.4,261.2 253.1,264.4 252.2,267.5 251.5,271.2 250.6,275.0 249.8,278.1 249.0,281.9 248.1,285.0 245.0,286.9 242.5,288.5 240.6,290.0"/>
<polyline points="185.2,238.1 185.2,239.8"/>
<polyline points="210.0,215.6 211.2,214.4 211.9,216.2 214.4,217.5 217.5,218.1 220.6,219.4 223.8,221.0 226.9,223.5 229.4,225.6 231.2,227.5 232.5,230.0"/>
<polyline points="210.0,201.0 211.5,199.4 212.5,200.0"/>
<polyline points="307.5,230.0 309.4,232.5 311.2,236.2 312.5,240.6 313.5,245.0 314.4,248.8 315.2,253.1 315.9,257.5 316.2,262.5 316.0,267.5 315.2,271.2 314.6,274.4 314.4,277.5 315.0,280.6 316.0,283.8 316.9,286.9 317.5,290.0"/>
<polyline points="358.5,230.0 356.9,233.1 355.0,236.2 353.1,240.0 351.5,243.8 350.2,247.5 349.0,251.9 348.4,255.6 348.5,259.4 349.4,261.2 349.4,265.0 348.8,268.1 347.8,271.2 346.9,274.4 345.9,277.5 345.0,280.6 344.0,283.8 343.1,286.9 342.5,290.0"/>
<polyline points="340.6,238.1 341.5,238.8 341.5,241.9 341.5,245.6 341.0,242.5 340.6,240.0 340.6,238.1"/>
<polyline points="360.6,264.4 361.0,267.5 360.6,271.2 360.2,275.0 360.0,278.8 358.8,281.2 357.5,283.8 356.2,286.2 355.0,288.8 354.4,285.0 354.4,281.2 354.4,278.1 356.0,275.6 357.5,272.5 359.0,269.4 360.0,266.2 360.6,264.4"/>
<polyline points="419.4,230.0 420.6,233.1 421.9,236.2 423.1,239.4 424.8,242.5 425.6,244.4 428.1,244.8 431.2,244.4 430.0,241.9 428.8,238.8 427.5,235.6 426.2,232.5 425.2,230.0"/>
<polyline points="421.2,230.0 424.0,232.8 426.9,235.2"/>
<polyline points="440.6,230.0 439.4,232.5 438.1,235.6 436.5,238.8 435.6,240.6 437.5,242.5 439.4,244.4 441.5,245.6 442.8,243.1 444.0,240.6 445.6,238.1 446.5,235.0 446.5,231.9 446.2,230.0"/>
<polyline points="431.5,251.5 433.1,252.8 435.6,252.5 438.1,253.1 440.6,253.8 441.9,254.4 438.1,254.8 434.8,254.4 433.1,253.5 431.5,251.5"/>
<polyline points="462.2,241.5 463.8,243.1 468.1,243.1 472.5,243.1 475.6,243.1 476.9,245.0 478.5,247.5 480.2,250.0 481.9,252.5 483.5,255.0 485.0,257.5 486.5,259.4 483.8,258.5 480.6,256.9 477.5,255.6 474.4,254.4 472.5,253.1 470.6,251.2 468.8,249.4 466.9,247.5 465.0,245.6 463.5,243.8 462.2,241.5"/>
<polyline points="441.2,290.0 441.9,286.2 442.2,282.5 443.8,281.0 445.6,280.0 447.5,278.8 450.0,277.2 451.9,275.0 453.1,272.5 454.4,270.0 455.6,268.5 457.5,269.0 459.8,269.4 461.2,266.9 462.5,264.4 464.0,261.9 465.0,262.8 466.9,263.5 468.5,265.0 469.8,267.5 470.6,270.0 471.2,272.2 472.5,269.4 473.8,266.2 475.0,263.1 476.2,260.6 477.2,262.5 478.1,265.6 479.4,269.4 480.6,273.1 482.2,276.9 483.8,280.0 485.0,283.1 486.5,286.2 487.5,290.0"/>
<polyline points="503.5,279.4 503.5,280.6"/>
<polyline points="521.2,273.8 522.8,272.2"/>
<polyline points="211.5,290.0 211.2,293.8 211.0,297.5 210.2,302.5 209.8,307.5 209.0,312.5 208.8,317.5 208.8,325.0 208.8,332.5 208.8,337.5 208.5,340.6 207.5,341.9 207.8,344.4 209.4,346.2 210.6,348.1 211.9,349.4"/>
<polyline points="239.8,290.0 238.8,293.8 237.8,297.5 236.5,301.9 235.0,305.6 233.1,308.8 231.0,311.9 228.8,315.0 226.2,317.5 223.8,320.0 221.9,323.1 220.6,326.2 218.8,329.4 216.9,331.9 215.6,335.0 214.4,338.1 213.5,341.2 213.1,344.4 212.2,346.9 211.9,349.4 213.8,348.5 215.6,349.8"/>
<polyline points="225.2,344.4 226.9,344.4"/>
<polyline points="211.9,350.0 212.2,351.5 215.0,351.5 217.5,351.5 215.6,350.0"/>
<polyline points="150.0,391.0 152.5,390.2 155.6,390.2 157.5,391.5 159.4,392.5 161.2,393.5 163.8,393.1 165.6,391.9 168.8,391.9 170.6,392.5 173.1,391.2 174.4,390.0 173.8,388.8 175.0,388.1 178.8,388.5 180.0,389.4 186.2,389.4 192.5,389.4 196.9,389.4 198.1,388.5 201.2,388.1 202.5,387.2 205.0,388.1 207.5,388.8 210.0,389.4 211.2,388.8 212.5,387.2 213.8,385.6 215.0,383.8 215.6,380.0 216.2,376.2 218.1,373.8 220.6,371.9 223.1,370.2 225.0,369.4 226.2,370.6 225.6,373.1 224.8,375.6 223.8,378.1 223.1,381.2 222.9,384.4 223.1,387.5 223.1,391.2 222.8,393.1 220.0,394.4 216.2,395.0 212.5,395.2 208.1,396.0 203.8,396.5 200.0,396.9 196.9,397.5 198.8,399.0 201.2,400.6 204.4,402.2 206.9,403.8 210.0,404.8 213.8,405.2 218.1,405.6 222.5,406.5 226.2,407.2 230.0,407.5"/>
<polyline points="216.2,376.2 218.1,378.1 220.0,380.0 221.5,381.9 222.5,384.4"/>
<polyline points="218.1,378.1 220.6,375.6 222.5,373.8 224.8,371.9"/>
<polyline points="206.9,385.0 208.8,383.8 211.2,382.5 212.5,380.6 213.1,383.1 211.9,385.6 210.6,386.9 208.8,386.2 206.9,385.0"/>
<polyline points="223.1,393.1 226.2,394.4 230.0,396.0"/>
<polyline points="220.0,403.5 225.0,403.5 228.1,402.2 230.0,401.5"/>
<polyline points="230.0,395.6 231.9,397.2 235.0,397.5 238.1,397.2 240.6,398.1 242.5,398.5 248.8,398.5 256.9,398.5 258.1,396.9 260.6,396.0 263.8,395.2 266.9,393.5 270.0,391.9 273.1,390.2 276.2,389.0 279.4,387.8 282.5,386.9 286.2,386.2 290.0,385.0 293.8,382.8 296.9,380.6 299.4,380.2 301.2,381.5 305.0,382.8 310.0,382.8"/>
<polyline points="258.8,398.1 262.5,396.5 265.6,394.8 268.8,393.1 271.9,391.5 275.0,390.0 278.1,388.8 281.2,387.5 285.0,386.5 288.8,386.5 292.5,385.6 295.0,385.6 296.9,386.5 299.4,386.2 301.9,384.8 305.0,384.0 310.0,383.5"/>
<polyline points="230.0,401.5 232.5,400.6 235.6,399.4 238.1,398.1"/>
<polyline points="240.6,398.8 243.1,399.8 244.8,400.6 244.8,403.5 241.2,403.5 237.5,403.5 235.0,403.1 232.5,402.2 230.0,402.2"/>
<polyline points="256.9,398.5 257.2,400.6 258.1,402.5 260.0,403.5 256.9,404.4 253.1,404.8 249.4,405.6 247.5,406.5 242.5,406.5 237.5,407.2 233.8,407.5 230.0,407.5"/>
<polyline points="310.0,382.8 316.2,382.8 323.8,382.8 332.5,382.8 335.0,381.5 337.5,381.2 340.0,380.2 342.5,381.2 345.6,381.5 346.9,382.5 348.8,381.2 350.6,379.8 353.1,378.1 356.2,376.5 361.2,376.2 363.1,375.0 365.0,374.4 367.5,375.2 370.6,375.6 372.5,376.5 375.6,377.2 380.0,377.5 381.9,378.5 385.0,379.0 386.5,380.0 386.2,382.8 386.9,383.5 388.8,382.8 390.0,382.2"/>
<polyline points="386.5,380.0 390.0,380.2"/>
<polyline points="310.0,383.5 323.8,383.5 324.4,384.4 331.9,384.4 333.1,383.1"/>
<polyline points="390.0,382.2 392.5,381.2 395.6,381.2 397.5,380.0 400.0,378.8 402.5,377.2 404.4,375.6 406.2,375.6 420.6,375.6 421.2,374.4 439.4,374.4 440.6,375.4 443.8,375.6 445.0,376.5 448.1,376.5 449.4,375.4 453.8,375.4 454.4,374.4 468.1,374.4 470.0,375.6"/>
<polyline points="401.9,376.9 403.8,377.8 405.6,376.5"/>
<polyline points="470.0,375.5 474.1,375.5 477.0,376.7 480.6,377.7 485.0,379.6 489.4,380.6 493.8,380.9 498.9,381.4 501.8,383.3 506.1,384.7 509.1,385.7 511.3,386.5 509.1,388.6 506.9,390.8 505.1,393.0 504.3,395.9 503.7,398.1 508.3,397.4 513.4,397.4 516.4,398.4 520.0,399.3 522.9,399.6"/>
<polyline points="503.7,398.1 501.3,400.3 502.8,402.5 504.3,405.1 505.7,407.6 507.6,408.6 512.7,409.5 517.8,410.5"/>
<polyline points="77.2,399.4 86.2,399.4 96.2,399.4 98.1,398.5 102.5,398.5"/>
<polyline points="96.2,399.4 97.5,401.2 99.8,402.5"/>
<polyline points="77.2,412.5 86.2,412.5 87.5,413.5 105.6,413.5 106.9,414.4 115.6,414.4 114.4,412.2 112.5,410.0 110.6,407.2 109.0,404.8 108.5,402.5 109.4,400.0 110.6,397.8 113.1,396.9 116.2,395.6 120.0,394.8 125.0,394.0 130.0,393.1 133.8,391.9 137.5,390.6 141.9,390.0 148.8,389.8 150.0,390.6"/>
<polyline points="130.0,392.8 135.0,392.5 140.6,392.2 145.0,391.2 150.0,391.2"/>
<polyline points="317.5,290.0 318.8,292.5 320.0,296.9 321.2,301.2 322.2,305.6 323.1,308.8 323.8,311.0 326.2,310.6 329.4,310.0 332.5,309.4 333.8,306.9 335.6,303.8 338.1,300.0 340.0,296.2 341.5,292.5 342.5,290.0"/>
<polyline points="355.0,288.8 354.8,290.6 354.4,287.5"/>
<polyline points="441.2,290.0 441.5,294.4 442.5,298.8 442.8,303.1 443.5,306.2 446.9,306.5 448.8,307.5 451.9,306.9 455.0,305.0 458.1,304.0 461.2,302.5 462.8,302.8 464.4,305.0 466.2,307.2 468.8,309.4 471.0,311.2 472.5,314.4 473.5,316.2 476.9,316.9 480.2,317.2 482.2,315.6 483.8,313.1 486.0,310.6 486.9,308.1 487.2,303.8 488.1,300.0 488.8,296.2 489.4,292.5 488.5,290.0"/>
<polyline points="479.4,322.5 481.2,323.8 483.1,325.2 481.0,326.5 480.0,325.2 480.6,323.8"/>
<polyline points="514.4,308.5 515.6,310.0 516.9,312.5 518.1,315.6 519.4,318.1 519.8,319.8 518.1,318.1 516.9,315.6 515.6,312.5 514.8,310.0 514.4,308.5"/>
<polyline points="513.5,321.2 514.0,323.8 515.2,322.8 513.8,325.6 514.4,327.5 513.1,330.0 511.2,331.2 509.4,332.8 508.1,333.5 509.8,330.6 511.2,328.1 512.8,326.2 513.5,323.8"/>
<path fill="#0a93ff" d="M289 92h1v1h-1zM376 73h1v1h-1zM382 101h1v1h-1zM475 86h1v1h-1zM394 152h1v1h-1zM513 129h1v1h-1zM519 131h1v1h-1zM101 193h1v1h-1zM105 197h1v1h-1zM202 203h1v1h-1zM216 201h1v1h-1zM205 188h1v1h-1zM450 200h1v1h-1zM216 201h1v1h-1z"/></g>
<rect x="74.5" y="57.5" width="450" height="362" fill="none" stroke="#000"/>
<rect x="535" y="57" width="23" height="363" fill="#000"/>
<rect x="536" y="58" width="21" height="1" fill="#fffe00"/>
<rect x="536" y="59" width="21" height="1" fill="#fefc00"/>
<rect x="536" y="60" width="21" height="1" fill="#fefa00"/>
<rect x="536" y="61" width="21" height="1" fill="#fef800"/>
<rect x="536" y="62" width="21" height="1" fill="#fdf600"/>
<rect x="536" y="63" width="21" height="1" fill="#fdf400"/>
<rect x="536" y="64" width="21" height="1" fill="#fdf200"/>
<rect x="536" y="65" width="21" height="1" fill="#fcef00"/>
<rect x="536" y="66" width="21" height="1" fill="#fced00"/>
<rect x="536" y="67" width="21" height="1" fill="#fceb00"/>
<rect x="536" y="68" width="21" height="1" fill="#fbe900"/>
<rect x="536" y="69" width="21" height="1" fill="#fbe700"/>
<rect x="536" y="70" width="21" height="1" fill="#fbe500"/>
<rect x="536" y="71" width="21" height="1" fill="#fae400"/>
<rect x="536" y="72" width="21" height="1" fill="#fae200"/>
<rect x="536" y="73" width="21" height="1" fill="#f9e000"/>
<rect x="536" y="74" width="21" height="1" fill="#f9de00"/>
<rect x="536" y="75" width="21" height="1" fill="#f9dc00"/>
<rect x="536" y="76" width="21" height="1" fill="#f8da00"/>
<rect x="536" y="77" width="21" height="1" fill="#f8d800"/>
<rect x="536" y="78" width="21" height="1" fill="#f8d600"/>
<rect x="536" y="79" width="21" height="1" fill="#f7d400"/>
<rect x="536" y="80" width="21" height="1" fill="#f7d200"/>
<rect x="536" y="81" width="21" height="1" fill="#f7d000"/>
<rect x="536" y="82" width="21" height="1" fill="#f6cf00"/>
<rect x="536" y="83" width="21" height="1" fill="#f6cd00"/>
<rect x="536" y="84" width="21" height="1" fill="#f5cb00"/>
<rect x="536" y="85" width="21" height="1" fill="#f5c900"/>
<rect x="536" y="86" width="21" height="1" fill="#f5c700"/>
<rect x="536" y="87" width="21" height="1" fill="#f4c600"/>
<rect x="536" y="88" width="21" height="1" fill="#f4c400"/>
<rect x="536" y="89" width="21" height="1" fill="#f4c200"/>
<rect x="536" y="90" width="21" height="1" fill="#f3c000"/>
<rect x="536" y="91" width="21" height="1" fill="#f3bf00"/>
<rect x="536" y="92" width="21" height="1" fill="#f3bd00"/>
<rect x="536" y="93" width="21" height="1" fill="#f2bb00"/>
<rect x="536" y="94" width="21" height="1" fill="#f2b900"/>
<rect x="536" y="95" width="21" height="1" fill="#f1b800"/>
<rect x="536" y="96" width="21" height="1" fill="#f1b600"/>
<rect x="536" y="97" width="21" height="1" fill="#f1b400"/>
<rect x="536" y="98" width="21" height="1" fill="#f0b300"/>
<rect x="536" y="99" width="21" height="1" fill="#f0b100"/>
<rect x="536" y="100" width="21" height="1" fill="#f0af00"/>
<rect x="536" y="101" width="21" height="1" fill="#efae00"/>
<rect x="536" y="102" width="21" height="1" fill="#efac00"/>
<rect x="536" y="103" width="21" height="1" fill="#eeaa00"/>
<rect x="536" y="104" width="21" height="1" fill="#eea900"/>
<rect x="536" y="105" width="21" height="1" fill="#eea700"/>
<rect x="536" y="106" width="21" height="1" fill="#eda600"/>
<rect x="536" y="107" width="21" height="1" fill="#eda400"/>
<rect x="536" y="108" width="21" height="1" fill="#eda200"/>
<rect x="536" y="109" width="21" height="1" fill="#eca100"/>
<rect x="536" y="110" width="21" height="1" fill="#ec9f00"/>
<rect x="536" y="111" width="21" height="1" fill="#eb9e00"/>
<rect x="536" y="112" width="21" height="1" fill="#eb9c00"/>
<rect x="536" y="113" width="21" height="1" fill="#eb9b00"/>
<rect x="536" y="114" width="21" height="1" fill="#ea9900"/>
<rect x="536" y="115" width="21" height="1" fill="#ea9800"/>
<rect x="536" y="116" width="21" height="1" fill="#e99600"/>
<rect x="536" y="117" width="21" height="1" fill="#e99500"/>
<rect x="536" y="118" width="21" height="1" fill="#e99300"/>
<rect x="536" y="119" width="21" height="1" fill="#e89200"/>
<rect x="536" y="120" width="21" height="1" fill="#e89000"/>
<rect x="536" y="121" width="21" height="1" fill="#e88f00"/>
<rect x="536" y="122" width="21" height="1" fill="#e78e00"/>
<rect x="536" y="123" width="21" height="1" fill="#e78c00"/>
<rect x="536" y="124" width="21" height="1" fill="#e68b00"/>
<rect x="536" y="125" width="21" height="1" fill="#e68900"/>
<rect x="536" y="126" width="21" height="1" fill="#e68800"/>
<rect x="536" y="127" width="21" height="1" fill="#e58700"/>
<rect x="536" y="128" width="21" height="1" fill="#e58500"/>
<rect x="536" y="129" width="21" height="1" fill="#e48400"/>
<rect x="536" y="130" width="21" height="1" fill="#e48200"/>
<rect x="536" y="131" width="21" height="1" fill="#e48100"/>
<rect x="536" y="132" width="21" height="1" fill="#e38000"/>
<rect x="536" y="133" width="21" height="1" fill="#e37e00"/>
<rect x="536" y="134" width="21" height="1" fill="#e27d00"/>
<rect x="536" y="135" width="21" height="1" fill="#e27c00"/>
<rect x="536" y="136" width="21" height="1" fill="#e27a00"/>
<rect x="536" y="137" width="21" height="1" fill="#e17900"/>
<rect x="536" y="138" width="21" height="1" fill="#e17800"/>
<rect x="536" y="139" width="21" height="1" fill="#e07700"/>
<rect x="536" y="140" width="21" height="1" fill="#e07500"/>
<rect x="536" y="141" width="21" height="1" fill="#e07400"/>
<rect x="536" y="142" width="21" height="1" fill="#df7300"/>
<rect x="536" y="143" width="21" height="1" fill="#df7200"/>
<rect x="536" y="144" width="21" height="1" fill="#de7000"/>
<rect x="536" y="145" width="21" height="1" fill="#de6f00"/>
<rect x="536" y="146" width="21" height="1" fill="#de6e00"/>
<rect x="536" y="147" width="21" height="1" fill="#dd6d00"/>
<rect x="536" y="148" width="21" height="1" fill="#dd6c00"/>
<rect x="536" y="149" width="21" height="1" fill="#dc6a00"/>
<rect x="536" y="150" width="21" height="1" fill="#dc6900"/>
<rect x="536" y="151" width="21" height="1" fill="#dc6800"/>
<rect x="536" y="152" width="21" height="1" fill="#db6700"/>
<rect x="536" y="153" width="21" height="1" fill="#db6600"/>
<rect x="536" y="154" width="21" height="1" fill="#da6500"/>
<rect x="536" y="155" width="21" height="1" fill="#da6300"/>
<rect x="536" y="156" width="21" height="1" fill="#da6200"/>
<rect x="536" y="157" width="21" height="1" fill="#d96100"/>
<rect x="536" y="158" width="21" height="1" fill="#d96000"/>
<rect x="536" y="159" width="21" height="1" fill="#d85f00"/>
<rect x="536" y="160" width="21" height="1" fill="#d85e00"/>
<rect x="536" y="161" width="21" height="1" fill="#d75d00"/>
<rect x="536" y="162" width="21" height="1" fill="#d75c00"/>
<rect x="536" y="163" width="21" height="1" fill="#d75b00"/>
<rect x="536" y="164" width="21" height="1" fill="#d65a00"/>
<rect x="536" y="165" width="21" height="1" fill="#d65900"/>
<rect x="536" y="166" width="21" height="1" fill="#d55800"/>
<rect x="536" y="167" width="21" height="1" fill="#d55700"/>
<rect x="536" y="168" width="21" height="1" fill="#d55600"/>
<rect x="536" y="169" width="21" height="1" fill="#d45400"/>
<rect x="536" y="170" width="21" height="1" fill="#d45300"/>
<rect x="536" y="171" width="21" height="1" fill="#d35200"/>
<rect x="536" y="172" width="21" height="1" fill="#d35100"/>
<rect x="536" y="173" width="21" height="1" fill="#d25100"/>
<rect x="536" y="174" width="21" height="1" fill="#d25000"/>
<rect x="536" y="175" width="21" height="1" fill="#d24f00"/>
<rect x="536" y="176" width="21" height="1" fill="#d14e00"/>
<rect x="536" y="177" width="21" height="1" fill="#d14d00"/>
<rect x="536" y="178" width="21" height="1" fill="#d04c00"/>
<rect x="536" y="179" width="21" height="1" fill="#d04b00"/>
<rect x="536" y="180" width="21" height="1" fill="#cf4a00"/>
<rect x="536" y="181" width="21" height="1" fill="#cf4900"/>
<rect x="536" y="182" width="21" height="1" fill="#cf4800"/>
<rect x="536" y="183" width="21" height="1" fill="#ce4700"/>
<rect x="536" y="184" width="21" height="1" fill="#ce4600"/>
<rect x="536" y="185" width="21" height="1" fill="#cd4500"/>
<rect x="536" y="186" width="21" height="1" fill="#cd4400"/>
<rect x="536" y="187" width="21" height="1" fill="#cc4400"/>
<rect x="536" y="188" width="21" height="1" fill="#cc4300"/>
<rect x="536" y="189" width="21" height="1" fill="#cb4200"/>
<rect x="536" y="190" width="21" height="1" fill="#cb4100"/>
<rect x="536" y="191" width="21" height="1" fill="#cb4000"/>
<rect x="536" y="192" width="21" height="1" fill="#ca3f00"/>
<rect x="536" y="193" width="21" height="1" fill="#ca3e00"/>
<rect x="536" y="194" width="21" height="1" fill="#c93e00"/>
<rect x="536" y="195" width="21" height="1" fill="#c93d00"/>
<rect x="536" y="196" width="21" height="1" fill="#c83c00"/>
<rect x="536" y="197" width="21" height="1" fill="#c83b00"/>
<rect x="536" y="198" width="21" height="1" fill="#c73a00"/>
<rect x="536" y="199" width="21" height="1" fill="#c73a00"/>
<rect x="536" y="200" width="21" height="1" fill="#c73900"/>
<rect x="536" y="201" width="21" height="1" fill="#c63800"/>
<rect x="536" y="202" width="21" height="1" fill="#c63700"/>
<rect x="536" y="203" width="21" height="1" fill="#c53700"/>
<rect x="536" y="204" width="21" height="1" fill="#c53600"/>
<rect x="536" y="205" width="21" height="1" fill="#c43500"/>
<rect x="536" y="206" width="21" height="1" fill="#c43400"/>
<rect x="536" y="207" width="21" height="1" fill="#c33400"/>
<rect x="536" y="208" width="21" height="1" fill="#c33300"/>
<rect x="536" y="209" width="21" height="1" fill="#c23200"/>
<rect x="536" y="210" width="21" height="1" fill="#c23100"/>
<rect x="536" y="211" width="21" height="1" fill="#c23100"/>
<rect x="536" y="212" width="21" height="1" fill="#c13000"/>
<rect x="536" y="213" width="21" height="1" fill="#c12f00"/>
<rect x="536" y="214" width="21" height="1" fill="#c02f00"/>
<rect x="536" y="215" width="21" height="1" fill="#c02e00"/>
<rect x="536" y="216" width="21" height="1" fill="#bf2d00"/>
<rect x="536" y="217" width="21" height="1" fill="#bf2d00"/>
<rect x="536" y="218" width="21" height="1" fill="#be2c00"/>
<rect x="536" y="219" width="21" height="1" fill="#be2b00"/>
<rect x="536" y="220" width="21" height="1" fill="#bd2b00"/>
<rect x="536" y="221" width="21" height="1" fill="#bd2a00"/>
<rect x="536" y="222" width="21" height="1" fill="#bc2900"/>
<rect x="536" y="223" width="21" height="1" fill="#bc2900"/>
<rect x="536" y="224" width="21" height="1" fill="#bb2800"/>
<rect x="536" y="225" width="21" height="1" fill="#bb2800"/>
<rect x="536" y="226" width="21" height="1" fill="#ba2700"/>
<rect x="536" y="227" width="21" height="1" fill="#ba2600"/>
<rect x="536" y="228" width="21" height="1" fill="#b92600"/>
<rect x="536" y="229" width="21" height="1" fill="#b92500"/>
<rect x="536" y="230" width="21" height="1" fill="#b82500"/>
<rect x="536" y="231" width="21" height="1" fill="#b82400"/>
<rect x="536" y="232" width="21" height="1" fill="#b82300"/>
<rect x="536" y="233" width="21" height="1" fill="#b72300"/>
<rect x="536" y="234" width="21" height="1" fill="#b72200"/>
<rect x="536" y="235" width="21" height="1" fill="#b62200"/>
<rect x="536" y="236" width="21" height="1" fill="#b62100"/>
<rect x="536" y="237" width="21" height="1" fill="#b52100"/>
<rect x="536" y="238" width="21" height="1" fill="#b52000"/>
<rect x="536" y="239" width="21" height="1" fill="#b42002"/>
<rect x="536" y="240" width="21" height="1" fill="#b41f07"/>
<rect x="536" y="241" width="21" height="1" fill="#b31f0b"/>
<rect x="536" y="242" width="21" height="1" fill="#b31e0f"/>
<rect x="536" y="243" width="21" height="1" fill="#b21e14"/>
<rect x="536" y="244" width="21" height="1" fill="#b21d18"/>
<rect x="536" y="245" width="21" height="1" fill="#b11d1d"/>
<rect x="536" y="246" width="21" height="1" fill="#b11c21"/>
<rect x="536" y="247" width="21" height="1" fill="#b01c25"/>
<rect x="536" y="248" width="21" height="1" fill="#b01b2a"/>
<rect x="536" y="249" width="21" height="1" fill="#af1b2e"/>
<rect x="536" y="250" width="21" height="1" fill="#ae1a33"/>
<rect x="536" y="251" width="21" height="1" fill="#ae1a37"/>
<rect x="536" y="252" width="21" height="1" fill="#ad193b"/>
<rect x="536" y="253" width="21" height="1" fill="#ad1940"/>
<rect x="536" y="254" width="21" height="1" fill="#ac1844"/>
<rect x="536" y="255" width="21" height="1" fill="#ac1848"/>
<rect x="536" y="256" width="21" height="1" fill="#ab174c"/>
<rect x="536" y="257" width="21" height="1" fill="#ab1750"/>
<rect x="536" y="258" width="21" height="1" fill="#aa1755"/>
<rect x="536" y="259" width="21" height="1" fill="#aa1659"/>
<rect x="536" y="260" width="21" height="1" fill="#a9165d"/>
<rect x="536" y="261" width="21" height="1" fill="#a91561"/>
<rect x="536" y="262" width="21" height="1" fill="#a81565"/>
<rect x="536" y="263" width="21" height="1" fill="#a81569"/>
<rect x="536" y="264" width="21" height="1" fill="#a7146d"/>
<rect x="536" y="265" width="21" height="1" fill="#a71471"/>
<rect x="536" y="266" width="21" height="1" fill="#a61375"/>
<rect x="536" y="267" width="21" height="1" fill="#a61379"/>
<rect x="536" y="268" width="21" height="1" fill="#a5137d"/>
<rect x="536" y="269" width="21" height="1" fill="#a41281"/>
<rect x="536" y="270" width="21" height="1" fill="#a41285"/>
<rect x="536" y="271" width="21" height="1" fill="#a31288"/>
<rect x="536" y="272" width="21" height="1" fill="#a3118c"/>
<rect x="536" y="273" width="21" height="1" fill="#a21190"/>
<rect x="536" y="274" width="21" height="1" fill="#a21193"/>
<rect x="536" y="275" width="21" height="1" fill="#a11097"/>
<rect x="536" y="276" width="21" height="1" fill="#a1109b"/>
<rect x="536" y="277" width="21" height="1" fill="#a0109e"/>
<rect x="536" y="278" width="21" height="1" fill="#9f0fa1"/>
<rect x="536" y="279" width="21" height="1" fill="#9f0fa5"/>
<rect x="536" y="280" width="21" height="1" fill="#9e0fa8"/>
<rect x="536" y="281" width="21" height="1" fill="#9e0eac"/>
<rect x="536" y="282" width="21" height="1" fill="#9d0eaf"/>
<rect x="536" y="283" width="21" height="1" fill="#9d0eb2"/>
<rect x="536" y="284" width="21" height="1" fill="#9c0db5"/>
<rect x="536" y="285" width="21" height="1" fill="#9b0db8"/>
<rect x="536" y="286" width="21" height="1" fill="#9b0dbb"/>
<rect x="536" y="287" width="21" height="1" fill="#9a0dbe"/>
<rect x="536" y="288" width="21" height="1" fill="#9a0cc1"/>
<rect x="536" y="289" width="21" height="1" fill="#990cc4"/>
<rect x="536" y="290" width="21" height="1" fill="#990cc7"/>
<rect x="536" y="291" width="21" height="1" fill="#980bca"/>
<rect x="536" y="292" width="21" height="1" fill="#970bcc"/>
<rect x="536" y="293" width="21" height="1" fill="#970bcf"/>
<rect x="536" y="294" width="21" height="1" fill="#960bd1"/>
<rect x="536" y="295" width="21" height="1" fill="#960ad4"/>
<rect x="536" y="296" width="21" height="1" fill="#950ad6"/>
<rect x="536" y="297" width="21" height="1" fill="#940ad9"/>
<rect x="536" y="298" width="21" height="1" fill="#940adb"/>
<rect x="536" y="299" width="21" height="1" fill="#9309dd"/>
<rect x="536" y="300" width="21" height="1" fill="#9309df"/>
<rect x="536" y="301" width="21" height="1" fill="#9209e1"/>
<rect x="536" y="302" width="21" height="1" fill="#9109e4"/>
<rect x="536" y="303" width="21" height="1" fill="#9108e5"/>
<rect x="536" y="304" width="21" height="1" fill="#9008e7"/>
<rect x="536" y="305" width="21" height="1" fill="#8f08e9"/>
<rect x="536" y="306" width="21" height="1" fill="#8f08eb"/>
<rect x="536" y="307" width="21" height="1" fill="#8e08ed"/>
<rect x="536" y="308" width="21" height="1" fill="#8e07ee"/>
<rect x="536" y="309" width="21" height="1" fill="#8d07f0"/>
<rect x="536" y="310" width="21" height="1" fill="#8c07f1"/>
<rect x="536" y="311" width="21" height="1" fill="#8c07f3"/>
<rect x="536" y="312" width="21" height="1" fill="#8b07f4"/>
<rect x="536" y="313" width="21" height="1" fill="#8a06f5"/>
<rect x="536" y="314" width="21" height="1" fill="#8a06f6"/>
<rect x="536" y="315" width="21" height="1" fill="#8906f8"/>
<rect x="536" y="316" width="21" height="1" fill="#8806f9"/>
<rect x="536" y="317" width="21" height="1" fill="#8806f9"/>
<rect x="536" y="318" width="21" height="1" fill="#8706fa"/>
<rect x="536" y="319" width="21" height="1" fill="#8605fb"/>
<rect x="536" y="320" width="21" height="1" fill="#8605fc"/>
<rect x="536" y="321" width="21" height="1" fill="#8505fd"/>
<rect x="536" y="322" width="21" height="1" fill="#8405fd"/>
<rect x="536" y="323" width="21" height="1" fill="#8405fe"/>
<rect x="536" y="324" width="21" height="1" fill="#8305fe"/>
<rect x="536" y="325" width="21" height="1" fill="#8205fe"/>
<rect x="536" y="326" width="21" height="1" fill="#8204ff"/>
<rect x="536" y="327" width="21" height="1" fill="#8104ff"/>
<rect x="536" y="328" width="21" height="1" fill="#8004ff"/>
<rect x="536" y="329" width="21" height="1" fill="#8004ff"/>
<rect x="536" y="330" width="21" height="1" fill="#7f04ff"/>
<rect x="536" y="331" width="21" height="1" fill="#7e04ff"/>
<rect x="536" y="332" width="21" height="1" fill="#7d04ff"/>
<rect x="536" y="333" width="21" height="1" fill="#7d03fe"/>
<rect x="536" y="334" width="21" height="1" fill="#7c03fe"/>
<rect x="536" y="335" width="21" height="1" fill="#7b03fe"/>
<rect x="536" y="336" width="21" height="1" fill="#7a03fd"/>
<rect x="536" y="337" width="21" height="1" fill="#7a03fd"/>
<rect x="536" y="338" width="21" height="1" fill="#7903fc"/>
<rect x="536" y="339" width="21" height="1" fill="#7803fb"/>
<rect x="536" y="340" width="21" height="1" fill="#7803fa"/>
<rect x="536" y="341" width="21" height="1" fill="#7703f9"/>
<rect x="536" y="342" width="21" height="1" fill="#7603f9"/>
<rect x="536" y="343" width="21" height="1" fill="#7502f8"/>
<rect x="536" y="344" width="21" height="1" fill="#7402f6"/>
<rect x="536" y="345" width="21" height="1" fill="#7402f5"/>
<rect x="536" y="346" width="21" height="1" fill="#7302f4"/>
<rect x="536" y="347" width="21" height="1" fill="#7202f3"/>
<rect x="536" y="348" width="21" height="1" fill="#7102f1"/>
<rect x="536" y="349" width="21" height="1" fill="#7102f0"/>
<rect x="536" y="350" width="21" height="1" fill="#7002ee"/>
<rect x="536" y="351" width="21" height="1" fill="#6f02ed"/>
<rect x="536" y="352" width="21" height="1" fill="#6e02eb"/>
<rect x="536" y="353" width="21" height="1" fill="#6d02e9"/>
<rect x="536" y="354" width="21" height="1" fill="#6c02e7"/>
<rect x="536" y="355" width="21" height="1" fill="#6c01e5"/>
<rect x="536" y="356" width="21" height="1" fill="#6b01e4"/>
<rect x="536" y="357" width="21" height="1" fill="#6a01e1"/>
<rect x="536" y="358" width="21" height="1" fill="#6901df"/>
<rect x="536" y="359" width="21" height="1" fill="#6801dd"/>
<rect x="536" y="360" width="21" height="1" fill="#6701db"/>
<rect x="536" y="361" width="21" height="1" fill="#6701d9"/>
<rect x="536" y="362" width="21" height="1" fill="#6601d6"/>
<rect x="536" y="363" width="21" height="1" fill="#6501d4"/>
<rect x="536" y="364" width="21" height="1" fill="#6401d1"/>
<rect x="536" y="365" width="21" height="1" fill="#6301cf"/>
<rect x="536" y="366" width="21" height="1" fill="#6201cc"/>
<rect x="536" y="367" width="21" height="1" fill="#6101ca"/>
<rect x="536" y="368" width="21" height="1" fill="#6001c7"/>
<rect x="536" y="369" width="21" height="1" fill="#5f01c4"/>
<rect x="536" y="370" width="21" height="1" fill="#5e01c1"/>
<rect x="536" y="371" width="21" height="1" fill="#5d01be"/>
<rect x="536" y="372" width="21" height="1" fill="#5c01bb"/>
<rect x="536" y="373" width="21" height="1" fill="#5b01b8"/>
<rect x="536" y="374" width="21" height="1" fill="#5a01b5"/>
<rect x="536" y="375" width="21" height="1" fill="#5900b2"/>
<rect x="536" y="376" width="21" height="1" fill="#5800af"/>
<rect x="536" y="377" width="21" height="1" fill="#5700ac"/>
<rect x="536" y="378" width="21" height="1" fill="#5600a8"/>
<rect x="536" y="379" width="21" height="1" fill="#5500a5"/>
<rect x="536" y="380" width="21" height="1" fill="#5400a1"/>
<rect x="536" y="381" width="21" height="1" fill="#53009e"/>
<rect x="536" y="382" width="21" height="1" fill="#52009b"/>
<rect x="536" y="383" width="21" height="1" fill="#510097"/>
<rect x="536" y="384" width="21" height="1" fill="#500093"/>
<rect x="536" y="385" width="21" height="1" fill="#4f0090"/>
<rect x="536" y="386" width="21" height="1" fill="#4e008c"/>
<rect x="536" y="387" width="21" height="1" fill="#4c0088"/>
<rect x="536" y="388" width="21" height="1" fill="#4b0085"/>
<rect x="536" y="389" width="21" height="1" fill="#4a0081"/>
<rect x="536" y="390" width="21" height="1" fill="#49007d"/>
<rect x="536" y="391" width="21" height="1" fill="#480079"/>
<rect x="536" y="392" width="21" height="1" fill="#460075"/>
<rect x="536" y="393" width="21" height="1" fill="#450071"/>
<rect x="536" y="394" width="21" height="1" fill="#44006d"/>
<rect x="536" y="395" width="21" height="1" fill="#420069"/>
<rect x="536" y="396" width="21" height="1" fill="#410065"/>
<rect x="536" y="397" width="21" height="1" fill="#400061"/>
<rect x="536" y="398" width="21" height="1" fill="#3e005d"/>
<rect x="536" y="399" width="21" height="1" fill="#3d0059"/>
<rect x="536" y="400" width="21" height="1" fill="#3b0055"/>
<rect x="536" y="401" width="21" height="1" fill="#3a0050"/>
<rect x="536" y="402" width="21" height="1" fill="#38004c"/>
<rect x="536" y="403" width="21" height="1" fill="#360048"/>
<rect x="536" y="404" width="21" height="1" fill="#350044"/>
<rect x="536" y="405" width="21" height="1" fill="#330040"/>
<rect x="536" y="406" width="21" height="1" fill="#31003b"/>
<rect x="536" y="407" width="21" height="1" fill="#2f0037"/>
<rect x="536" y="408" width="21" height="1" fill="#2d0033"/>
<rect x="536" y="409" width="21" height="1" fill="#2b002e"/>
<rect x="536" y="410" width="21" height="1" fill="#29002a"/>
<rect x="536" y="411" width="21" height="1" fill="#270025"/>
<rect x="536" y="412" width="21" height="1" fill="#250021"/>
<rect x="536" y="413" width="21" height="1" fill="#22001d"/>
<rect x="536" y="414" width="21" height="1" fill="#1f0018"/>
<rect x="536" y="415" width="21" height="1" fill="#1c0014"/>
<rect x="536" y="416" width="21" height="1" fill="#19000f"/>
<rect x="536" y="417" width="21" height="1" fill="#15000b"/>
<rect x="536" y="418" width="21" height="1" fill="#100007"/>
<rect x="536" y="103" width="4" height="1" fill="#000"/><rect x="553" y="103" width="4" height="1" fill="#000"/>
<rect x="536" y="148" width="4" height="1" fill="#000"/><rect x="553" y="148" width="4" height="1" fill="#000"/>
<rect x="536" y="193" width="4" height="1" fill="#000"/><rect x="553" y="193" width="4" height="1" fill="#000"/>
<rect x="536" y="238" width="4" height="1" fill="#000"/><rect x="553" y="238" width="4" height="1" fill="#000"/>
<rect x="536" y="284" width="4" height="1" fill="#000"/><rect x="553" y="284" width="4" height="1" fill="#000"/>
<rect x="536" y="329" width="4" height="1" fill="#000"/><rect x="553" y="329" width="4" height="1" fill="#000"/>
<rect x="536" y="374" width="4" height="1" fill="#000"/><rect x="553" y="374" width="4" height="1" fill="#000"/>
</g>
</svg></body></html>
